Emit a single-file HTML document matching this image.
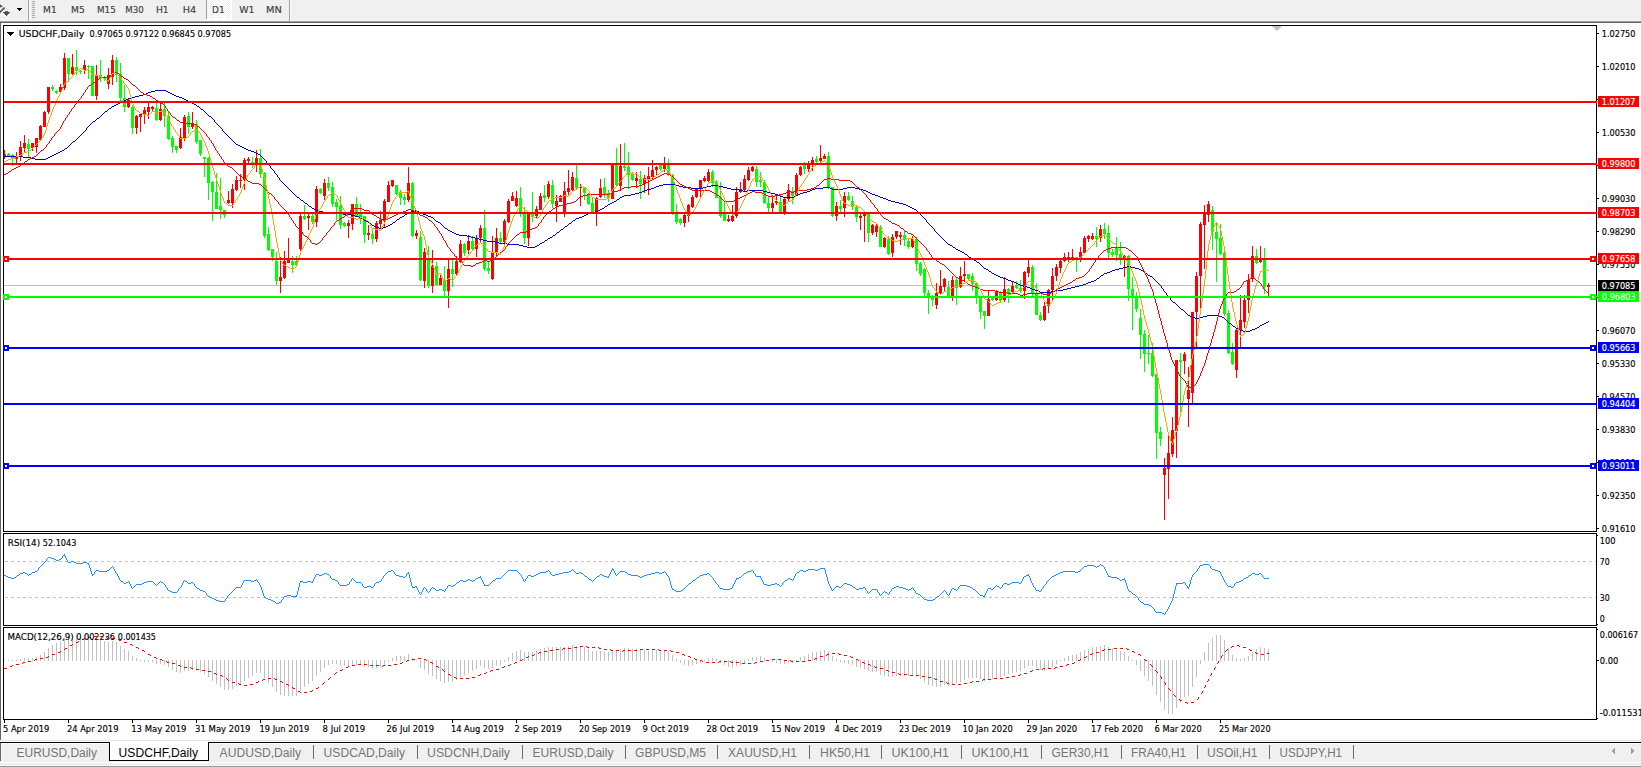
<!DOCTYPE html>
<html><head><meta charset="utf-8"><title>USDCHF,Daily</title>
<style>html,body{margin:0;padding:0;background:#f0f0f0;overflow:hidden}body{width:1641px;height:767px}</style></head>
<body>
<svg width="1641" height="767" viewBox="0 0 1641 767" shape-rendering="crispEdges" font-family="DejaVu Sans Condensed, Liberation Sans, sans-serif" style="display:block">
<rect x="0" y="0" width="1641" height="767" fill="#f0f0f0"/>
<rect x="0" y="20" width="1641" height="1" fill="#f5f5f5"/>
<rect x="0" y="21" width="1641" height="1" fill="#a0a0a0"/>
<rect x="0" y="22" width="1641" height="1" fill="#646464"/>
<rect x="0" y="23" width="1641" height="717" fill="#ffffff"/>
<rect x="0" y="22" width="1" height="718" fill="#646464"/>
<rect x="1" y="740" width="1640" height="1" fill="#e3e3e3"/>
<rect x="0" y="741" width="1641" height="1" fill="#ffffff"/>
<rect x="0" y="742" width="1641" height="1" fill="#000000"/>
<rect x="0" y="743" width="1641" height="1" fill="#fbfbfb"/>
<rect x="0" y="744" width="1641" height="18" fill="#f0f0f0"/>
<rect x="0" y="762" width="1641" height="1" fill="#ffffff"/>
<rect x="0" y="763" width="1641" height="2" fill="#f0f0f0"/>
<rect x="0" y="765" width="1641" height="1" fill="#f6f6f6"/>
<rect x="0" y="766" width="1641" height="1" fill="#9b9b9b"/>
<rect x="0" y="743" width="1" height="18" fill="#646464"/>
<rect x="1" y="743" width="1" height="18" fill="#fafafa"/>
<rect x="109" y="742" width="100" height="19" fill="#000"/>
<rect x="110" y="741" width="98" height="19" fill="#fff"/>
<text x="16.6" y="757" font-size="12" fill="#757575" textLength="80.4" lengthAdjust="spacingAndGlyphs" font-family="Liberation Sans, Arial, sans-serif">EURUSD,Daily</text>
<text x="118.6" y="757" font-size="12" fill="#000" textLength="79.4" lengthAdjust="spacingAndGlyphs" font-family="Liberation Sans, Arial, sans-serif">USDCHF,Daily</text>
<text x="219.6" y="757" font-size="12" fill="#757575" textLength="81.4" lengthAdjust="spacingAndGlyphs" font-family="Liberation Sans, Arial, sans-serif">AUDUSD,Daily</text>
<text x="323.6" y="757" font-size="12" fill="#757575" textLength="81.4" lengthAdjust="spacingAndGlyphs" font-family="Liberation Sans, Arial, sans-serif">USDCAD,Daily</text>
<text x="427.1" y="757" font-size="12" fill="#757575" textLength="82.9" lengthAdjust="spacingAndGlyphs" font-family="Liberation Sans, Arial, sans-serif">USDCNH,Daily</text>
<text x="532.6" y="757" font-size="12" fill="#757575" textLength="80.9" lengthAdjust="spacingAndGlyphs" font-family="Liberation Sans, Arial, sans-serif">EURUSD,Daily</text>
<text x="635.1" y="757" font-size="12" fill="#757575" textLength="70.9" lengthAdjust="spacingAndGlyphs" font-family="Liberation Sans, Arial, sans-serif">GBPUSD,M5</text>
<text x="728.1" y="757" font-size="12" fill="#757575" textLength="68.9" lengthAdjust="spacingAndGlyphs" font-family="Liberation Sans, Arial, sans-serif">XAUUSD,H1</text>
<text x="820.1" y="757" font-size="12" fill="#757575" textLength="49.9" lengthAdjust="spacingAndGlyphs" font-family="Liberation Sans, Arial, sans-serif">HK50,H1</text>
<text x="891.6" y="757" font-size="12" fill="#757575" textLength="57.4" lengthAdjust="spacingAndGlyphs" font-family="Liberation Sans, Arial, sans-serif">UK100,H1</text>
<text x="971.6" y="757" font-size="12" fill="#757575" textLength="57.4" lengthAdjust="spacingAndGlyphs" font-family="Liberation Sans, Arial, sans-serif">UK100,H1</text>
<text x="1051.6" y="757" font-size="12" fill="#757575" textLength="57.4" lengthAdjust="spacingAndGlyphs" font-family="Liberation Sans, Arial, sans-serif">GER30,H1</text>
<text x="1131.1" y="757" font-size="12" fill="#757575" textLength="54.9" lengthAdjust="spacingAndGlyphs" font-family="Liberation Sans, Arial, sans-serif">FRA40,H1</text>
<text x="1207.1" y="757" font-size="12" fill="#757575" textLength="50.4" lengthAdjust="spacingAndGlyphs" font-family="Liberation Sans, Arial, sans-serif">USOil,H1</text>
<text x="1279.6" y="757" font-size="12" fill="#757575" textLength="62.4" lengthAdjust="spacingAndGlyphs" font-family="Liberation Sans, Arial, sans-serif">USDJPY,H1</text>
<rect x="313" y="745" width="1" height="14" fill="#6e6e6e"/>
<rect x="417" y="745" width="1" height="14" fill="#6e6e6e"/>
<rect x="522" y="745" width="1" height="14" fill="#6e6e6e"/>
<rect x="625" y="745" width="1" height="14" fill="#6e6e6e"/>
<rect x="717" y="745" width="1" height="14" fill="#6e6e6e"/>
<rect x="809" y="745" width="1" height="14" fill="#6e6e6e"/>
<rect x="881" y="745" width="1" height="14" fill="#6e6e6e"/>
<rect x="961" y="745" width="1" height="14" fill="#6e6e6e"/>
<rect x="1041" y="745" width="1" height="14" fill="#6e6e6e"/>
<rect x="1121" y="745" width="1" height="14" fill="#6e6e6e"/>
<rect x="1197" y="745" width="1" height="14" fill="#6e6e6e"/>
<rect x="1269" y="745" width="1" height="14" fill="#6e6e6e"/>
<rect x="1353" y="745" width="1" height="14" fill="#6e6e6e"/>
<rect x="1612" y="750" width="1" height="2" fill="#a0a0a0"/>
<rect x="1631" y="748" width="1" height="6" fill="#a0a0a0"/>
<rect x="1613" y="749" width="1" height="4" fill="#a0a0a0"/>
<rect x="1632" y="749" width="1" height="4" fill="#a0a0a0"/>
<rect x="1614" y="748" width="1" height="6" fill="#a0a0a0"/>
<rect x="1633" y="750" width="1" height="2" fill="#a0a0a0"/>
<rect x="28" y="0" width="1" height="21" fill="#a0a0a0"/>
<rect x="29" y="0" width="1" height="21" fill="#ffffff"/>
<rect x="32" y="1" width="3" height="1" fill="#a8a8a8"/>
<rect x="32" y="3" width="3" height="1" fill="#a8a8a8"/>
<rect x="32" y="5" width="3" height="1" fill="#a8a8a8"/>
<rect x="32" y="7" width="3" height="1" fill="#a8a8a8"/>
<rect x="32" y="9" width="3" height="1" fill="#a8a8a8"/>
<rect x="32" y="11" width="3" height="1" fill="#a8a8a8"/>
<rect x="32" y="13" width="3" height="1" fill="#a8a8a8"/>
<rect x="32" y="15" width="3" height="1" fill="#a8a8a8"/>
<rect x="32" y="17" width="3" height="1" fill="#a8a8a8"/>
<rect x="17" y="8" width="5" height="1" fill="#000"/>
<rect x="18" y="9" width="3" height="1" fill="#000"/>
<rect x="19" y="10" width="1" height="1" fill="#000"/>
<g shape-rendering="geometricPrecision"><path d="M0 4.2 L2.9 6.6 L0 7.6 Z" fill="#505050"/><path d="M-0.5 12.6 L4.6 7.6" stroke="#505050" stroke-width="1.5" fill="none"/></g>
<rect x="5" y="11" width="3" height="1" fill="#606060"/>
<rect x="3" y="12" width="7" height="1" fill="#505050"/>
<rect x="4" y="13" width="5" height="1" fill="#505050"/>
<rect x="5" y="14" width="3" height="1" fill="#505050"/>
<rect x="6" y="15" width="1" height="1" fill="#505050"/>
<defs><pattern id="hat" width="2" height="2" patternUnits="userSpaceOnUse"><rect width="2" height="2" fill="#f0f0f0"/><rect width="1" height="1" fill="#fff"/><rect x="1" y="1" width="1" height="1" fill="#fff"/></pattern></defs>
<rect x="206" y="0" width="1" height="19" fill="#a0a0a0"/>
<rect x="207" y="0" width="24" height="19" fill="url(#hat)"/>
<rect x="231" y="0" width="1" height="20" fill="#fff"/>
<rect x="206" y="19" width="26" height="1" fill="#fff"/>
<rect x="289" y="0" width="1" height="21" fill="#a0a0a0"/>
<rect x="290" y="0" width="1" height="21" fill="#ffffff"/>
<text x="43.1" y="13" font-size="9.5" fill="#404040" stroke="#404040" stroke-width="0.15" textLength="13.6" lengthAdjust="spacingAndGlyphs">M1</text>
<text x="71.0" y="13" font-size="9.5" fill="#404040" stroke="#404040" stroke-width="0.15" textLength="13.7" lengthAdjust="spacingAndGlyphs">M5</text>
<text x="97.0" y="13" font-size="9.5" fill="#404040" stroke="#404040" stroke-width="0.15" textLength="18.7" lengthAdjust="spacingAndGlyphs">M15</text>
<text x="125.3" y="13" font-size="9.5" fill="#404040" stroke="#404040" stroke-width="0.15" textLength="18.4" lengthAdjust="spacingAndGlyphs">M30</text>
<text x="155.9" y="13" font-size="9.5" fill="#404040" stroke="#404040" stroke-width="0.15" textLength="12.8" lengthAdjust="spacingAndGlyphs">H1</text>
<text x="182.8" y="13" font-size="9.5" fill="#404040" stroke="#404040" stroke-width="0.15" textLength="13.5" lengthAdjust="spacingAndGlyphs">H4</text>
<text x="212.1" y="13" font-size="9.5" fill="#404040" stroke="#404040" stroke-width="0.15" textLength="12.5" lengthAdjust="spacingAndGlyphs">D1</text>
<text x="239.3" y="13" font-size="9.5" fill="#404040" stroke="#404040" stroke-width="0.15" textLength="15.3" lengthAdjust="spacingAndGlyphs">W1</text>
<text x="266.1" y="13" font-size="9.5" fill="#404040" stroke="#404040" stroke-width="0.15" textLength="15.8" lengthAdjust="spacingAndGlyphs">MN</text>
<rect x="3" y="25" width="1594" height="1" fill="#000"/>
<rect x="3" y="531" width="1594" height="1" fill="#000"/>
<rect x="3" y="25" width="1" height="507" fill="#000"/>
<rect x="1596" y="25" width="1" height="507" fill="#000"/>
<rect x="3" y="533" width="1594" height="1" fill="#000"/>
<rect x="3" y="625" width="1594" height="1" fill="#000"/>
<rect x="3" y="533" width="1" height="93" fill="#000"/>
<rect x="1596" y="533" width="1" height="93" fill="#000"/>
<rect x="3" y="627" width="1594" height="1" fill="#000"/>
<rect x="3" y="719" width="1594" height="1" fill="#000"/>
<rect x="3" y="627" width="1" height="93" fill="#000"/>
<rect x="1596" y="627" width="1" height="93" fill="#000"/>
<defs><clipPath id="cm"><rect x="4" y="26" width="1592" height="505"/></clipPath><clipPath id="cr"><rect x="4" y="534" width="1592" height="91"/></clipPath><clipPath id="cd"><rect x="4" y="628" width="1592" height="91"/></clipPath></defs>
<rect x="4" y="285" width="1592" height="1" fill="#c0c0c0"/>
<path d="M1272 26 L1282 26 L1277 31 Z" fill="#c0c0c0" shape-rendering="geometricPrecision"/>
<g clip-path="url(#cm)">
<rect x="4" y="150" width="1" height="9" fill="#ff0000"/>
<rect x="3" y="154" width="3" height="3" fill="#ff0000"/>
<rect x="8" y="153" width="1" height="4" fill="#00ff00"/>
<rect x="7" y="154" width="3" height="3" fill="#00ff00"/>
<rect x="12" y="154" width="1" height="12" fill="#00ff00"/>
<rect x="11" y="155" width="3" height="4" fill="#00ff00"/>
<rect x="16" y="152" width="1" height="11" fill="#ff0000"/>
<rect x="15" y="156" width="3" height="3" fill="#ff0000"/>
<rect x="20" y="141" width="1" height="20" fill="#ff0000"/>
<rect x="19" y="147" width="3" height="9" fill="#ff0000"/>
<rect x="24" y="135" width="1" height="17" fill="#ff0000"/>
<rect x="23" y="143" width="3" height="5" fill="#ff0000"/>
<rect x="28" y="139" width="1" height="18" fill="#00ff00"/>
<rect x="27" y="144" width="3" height="5" fill="#00ff00"/>
<rect x="32" y="143" width="1" height="8" fill="#ff0000"/>
<rect x="31" y="143" width="3" height="5" fill="#ff0000"/>
<rect x="36" y="138" width="1" height="15" fill="#ff0000"/>
<rect x="35" y="138" width="3" height="9" fill="#ff0000"/>
<rect x="40" y="125" width="1" height="15" fill="#ff0000"/>
<rect x="39" y="126" width="3" height="14" fill="#ff0000"/>
<rect x="44" y="111" width="1" height="16" fill="#ff0000"/>
<rect x="43" y="112" width="3" height="15" fill="#ff0000"/>
<rect x="48" y="87" width="1" height="27" fill="#ff0000"/>
<rect x="47" y="87" width="3" height="25" fill="#ff0000"/>
<rect x="52" y="85" width="1" height="6" fill="#00ff00"/>
<rect x="51" y="87" width="3" height="2" fill="#00ff00"/>
<rect x="56" y="90" width="1" height="4" fill="#00ff00"/>
<rect x="55" y="91" width="3" height="2" fill="#00ff00"/>
<rect x="60" y="84" width="1" height="8" fill="#ff0000"/>
<rect x="59" y="87" width="3" height="5" fill="#ff0000"/>
<rect x="64" y="53" width="1" height="37" fill="#ff0000"/>
<rect x="63" y="58" width="3" height="30" fill="#ff0000"/>
<rect x="68" y="58" width="1" height="24" fill="#00ff00"/>
<rect x="67" y="58" width="3" height="16" fill="#00ff00"/>
<rect x="72" y="54" width="1" height="21" fill="#ff0000"/>
<rect x="71" y="67" width="3" height="7" fill="#ff0000"/>
<rect x="76" y="50" width="1" height="25" fill="#00ff00"/>
<rect x="75" y="67" width="3" height="4" fill="#00ff00"/>
<rect x="80" y="70" width="1" height="4" fill="#00ff00"/>
<rect x="79" y="71" width="3" height="1" fill="#00ff00"/>
<rect x="84" y="60" width="1" height="14" fill="#ff0000"/>
<rect x="83" y="65" width="3" height="5" fill="#ff0000"/>
<rect x="88" y="65" width="1" height="14" fill="#00ff00"/>
<rect x="87" y="66" width="3" height="1" fill="#00ff00"/>
<rect x="92" y="66" width="1" height="30" fill="#00ff00"/>
<rect x="91" y="66" width="3" height="30" fill="#00ff00"/>
<rect x="96" y="65" width="1" height="35" fill="#ff0000"/>
<rect x="95" y="76" width="3" height="20" fill="#ff0000"/>
<rect x="100" y="60" width="1" height="22" fill="#00ff00"/>
<rect x="99" y="75" width="3" height="3" fill="#00ff00"/>
<rect x="104" y="76" width="1" height="5" fill="#00ff00"/>
<rect x="103" y="77" width="3" height="2" fill="#00ff00"/>
<rect x="108" y="68" width="1" height="21" fill="#ff0000"/>
<rect x="107" y="75" width="3" height="9" fill="#ff0000"/>
<rect x="112" y="55" width="1" height="30" fill="#ff0000"/>
<rect x="111" y="60" width="3" height="17" fill="#ff0000"/>
<rect x="116" y="57" width="1" height="25" fill="#00ff00"/>
<rect x="115" y="60" width="3" height="15" fill="#00ff00"/>
<rect x="120" y="63" width="1" height="38" fill="#00ff00"/>
<rect x="119" y="74" width="3" height="24" fill="#00ff00"/>
<rect x="124" y="85" width="1" height="27" fill="#00ff00"/>
<rect x="123" y="98" width="3" height="9" fill="#00ff00"/>
<rect x="128" y="99" width="1" height="9" fill="#ff0000"/>
<rect x="127" y="100" width="3" height="7" fill="#ff0000"/>
<rect x="132" y="105" width="1" height="29" fill="#00ff00"/>
<rect x="131" y="107" width="3" height="21" fill="#00ff00"/>
<rect x="136" y="115" width="1" height="19" fill="#ff0000"/>
<rect x="135" y="116" width="3" height="12" fill="#ff0000"/>
<rect x="140" y="113" width="1" height="19" fill="#ff0000"/>
<rect x="139" y="114" width="3" height="3" fill="#ff0000"/>
<rect x="144" y="107" width="1" height="17" fill="#ff0000"/>
<rect x="143" y="110" width="3" height="5" fill="#ff0000"/>
<rect x="148" y="103" width="1" height="16" fill="#ff0000"/>
<rect x="147" y="107" width="3" height="5" fill="#ff0000"/>
<rect x="152" y="106" width="1" height="5" fill="#ff0000"/>
<rect x="151" y="107" width="3" height="2" fill="#ff0000"/>
<rect x="156" y="103" width="1" height="18" fill="#00ff00"/>
<rect x="155" y="108" width="3" height="12" fill="#00ff00"/>
<rect x="160" y="103" width="1" height="18" fill="#ff0000"/>
<rect x="159" y="109" width="3" height="11" fill="#ff0000"/>
<rect x="164" y="103" width="1" height="24" fill="#00ff00"/>
<rect x="163" y="109" width="3" height="7" fill="#00ff00"/>
<rect x="168" y="112" width="1" height="28" fill="#00ff00"/>
<rect x="167" y="116" width="3" height="23" fill="#00ff00"/>
<rect x="172" y="136" width="1" height="17" fill="#00ff00"/>
<rect x="171" y="138" width="3" height="9" fill="#00ff00"/>
<rect x="176" y="146" width="1" height="7" fill="#00ff00"/>
<rect x="175" y="146" width="3" height="4" fill="#00ff00"/>
<rect x="180" y="128" width="1" height="21" fill="#ff0000"/>
<rect x="179" y="137" width="3" height="11" fill="#ff0000"/>
<rect x="184" y="115" width="1" height="26" fill="#ff0000"/>
<rect x="183" y="117" width="3" height="22" fill="#ff0000"/>
<rect x="188" y="112" width="1" height="22" fill="#00ff00"/>
<rect x="187" y="116" width="3" height="11" fill="#00ff00"/>
<rect x="192" y="112" width="1" height="17" fill="#ff0000"/>
<rect x="191" y="123" width="3" height="4" fill="#ff0000"/>
<rect x="196" y="120" width="1" height="24" fill="#00ff00"/>
<rect x="195" y="124" width="3" height="18" fill="#00ff00"/>
<rect x="200" y="140" width="1" height="16" fill="#00ff00"/>
<rect x="199" y="140" width="3" height="14" fill="#00ff00"/>
<rect x="204" y="157" width="1" height="20" fill="#00ff00"/>
<rect x="203" y="157" width="3" height="2" fill="#00ff00"/>
<rect x="208" y="157" width="1" height="43" fill="#00ff00"/>
<rect x="207" y="158" width="3" height="25" fill="#00ff00"/>
<rect x="212" y="181" width="1" height="40" fill="#00ff00"/>
<rect x="211" y="182" width="3" height="10" fill="#00ff00"/>
<rect x="216" y="173" width="1" height="36" fill="#00ff00"/>
<rect x="215" y="192" width="3" height="17" fill="#00ff00"/>
<rect x="220" y="178" width="1" height="41" fill="#00ff00"/>
<rect x="219" y="206" width="3" height="4" fill="#00ff00"/>
<rect x="224" y="210" width="1" height="8" fill="#00ff00"/>
<rect x="223" y="210" width="3" height="5" fill="#00ff00"/>
<rect x="228" y="191" width="1" height="13" fill="#ff0000"/>
<rect x="227" y="200" width="3" height="3" fill="#ff0000"/>
<rect x="232" y="184" width="1" height="24" fill="#ff0000"/>
<rect x="231" y="189" width="3" height="14" fill="#ff0000"/>
<rect x="236" y="176" width="1" height="15" fill="#ff0000"/>
<rect x="235" y="180" width="3" height="10" fill="#ff0000"/>
<rect x="240" y="174" width="1" height="14" fill="#ff0000"/>
<rect x="239" y="180" width="3" height="1" fill="#ff0000"/>
<rect x="244" y="158" width="1" height="32" fill="#ff0000"/>
<rect x="243" y="160" width="3" height="20" fill="#ff0000"/>
<rect x="248" y="157" width="1" height="6" fill="#ff0000"/>
<rect x="247" y="159" width="3" height="2" fill="#ff0000"/>
<rect x="252" y="157" width="1" height="11" fill="#00ff00"/>
<rect x="251" y="162" width="3" height="2" fill="#00ff00"/>
<rect x="256" y="150" width="1" height="22" fill="#ff0000"/>
<rect x="255" y="158" width="3" height="7" fill="#ff0000"/>
<rect x="260" y="149" width="1" height="29" fill="#00ff00"/>
<rect x="259" y="158" width="3" height="16" fill="#00ff00"/>
<rect x="264" y="172" width="1" height="66" fill="#00ff00"/>
<rect x="263" y="173" width="3" height="63" fill="#00ff00"/>
<rect x="268" y="227" width="1" height="24" fill="#00ff00"/>
<rect x="267" y="234" width="3" height="16" fill="#00ff00"/>
<rect x="272" y="249" width="1" height="12" fill="#00ff00"/>
<rect x="271" y="249" width="3" height="8" fill="#00ff00"/>
<rect x="276" y="252" width="1" height="33" fill="#00ff00"/>
<rect x="275" y="261" width="3" height="20" fill="#00ff00"/>
<rect x="280" y="257" width="1" height="36" fill="#ff0000"/>
<rect x="279" y="277" width="3" height="4" fill="#ff0000"/>
<rect x="284" y="251" width="1" height="28" fill="#ff0000"/>
<rect x="283" y="261" width="3" height="17" fill="#ff0000"/>
<rect x="288" y="238" width="1" height="25" fill="#ff0000"/>
<rect x="287" y="259" width="3" height="4" fill="#ff0000"/>
<rect x="292" y="256" width="1" height="17" fill="#00ff00"/>
<rect x="291" y="261" width="3" height="4" fill="#00ff00"/>
<rect x="296" y="256" width="1" height="10" fill="#00ff00"/>
<rect x="295" y="261" width="3" height="4" fill="#00ff00"/>
<rect x="300" y="214" width="1" height="37" fill="#ff0000"/>
<rect x="299" y="216" width="3" height="33" fill="#ff0000"/>
<rect x="304" y="205" width="1" height="15" fill="#00ff00"/>
<rect x="303" y="216" width="3" height="3" fill="#00ff00"/>
<rect x="308" y="214" width="1" height="16" fill="#ff0000"/>
<rect x="307" y="216" width="3" height="2" fill="#ff0000"/>
<rect x="312" y="214" width="1" height="10" fill="#00ff00"/>
<rect x="311" y="216" width="3" height="6" fill="#00ff00"/>
<rect x="316" y="186" width="1" height="41" fill="#ff0000"/>
<rect x="315" y="189" width="3" height="33" fill="#ff0000"/>
<rect x="320" y="188" width="1" height="6" fill="#00ff00"/>
<rect x="319" y="189" width="3" height="4" fill="#00ff00"/>
<rect x="324" y="179" width="1" height="21" fill="#ff0000"/>
<rect x="323" y="183" width="3" height="13" fill="#ff0000"/>
<rect x="328" y="177" width="1" height="14" fill="#00ff00"/>
<rect x="327" y="183" width="3" height="5" fill="#00ff00"/>
<rect x="332" y="182" width="1" height="25" fill="#00ff00"/>
<rect x="331" y="187" width="3" height="17" fill="#00ff00"/>
<rect x="336" y="199" width="1" height="21" fill="#00ff00"/>
<rect x="335" y="202" width="3" height="5" fill="#00ff00"/>
<rect x="340" y="196" width="1" height="33" fill="#00ff00"/>
<rect x="339" y="206" width="3" height="19" fill="#00ff00"/>
<rect x="344" y="222" width="1" height="5" fill="#00ff00"/>
<rect x="343" y="223" width="3" height="3" fill="#00ff00"/>
<rect x="348" y="220" width="1" height="18" fill="#ff0000"/>
<rect x="347" y="223" width="3" height="3" fill="#ff0000"/>
<rect x="352" y="204" width="1" height="26" fill="#ff0000"/>
<rect x="351" y="204" width="3" height="20" fill="#ff0000"/>
<rect x="356" y="197" width="1" height="20" fill="#00ff00"/>
<rect x="355" y="204" width="3" height="13" fill="#00ff00"/>
<rect x="360" y="204" width="1" height="20" fill="#00ff00"/>
<rect x="359" y="212" width="3" height="5" fill="#00ff00"/>
<rect x="364" y="216" width="1" height="27" fill="#00ff00"/>
<rect x="363" y="216" width="3" height="19" fill="#00ff00"/>
<rect x="368" y="225" width="1" height="15" fill="#ff0000"/>
<rect x="367" y="233" width="3" height="2" fill="#ff0000"/>
<rect x="372" y="229" width="1" height="15" fill="#00ff00"/>
<rect x="371" y="234" width="3" height="5" fill="#00ff00"/>
<rect x="376" y="221" width="1" height="21" fill="#ff0000"/>
<rect x="375" y="223" width="3" height="16" fill="#ff0000"/>
<rect x="380" y="211" width="1" height="17" fill="#ff0000"/>
<rect x="379" y="220" width="3" height="4" fill="#ff0000"/>
<rect x="384" y="199" width="1" height="28" fill="#ff0000"/>
<rect x="383" y="201" width="3" height="20" fill="#ff0000"/>
<rect x="388" y="181" width="1" height="21" fill="#ff0000"/>
<rect x="387" y="185" width="3" height="17" fill="#ff0000"/>
<rect x="392" y="180" width="1" height="7" fill="#ff0000"/>
<rect x="391" y="180" width="3" height="6" fill="#ff0000"/>
<rect x="396" y="185" width="1" height="10" fill="#00ff00"/>
<rect x="395" y="185" width="3" height="9" fill="#00ff00"/>
<rect x="400" y="190" width="1" height="15" fill="#00ff00"/>
<rect x="399" y="192" width="3" height="6" fill="#00ff00"/>
<rect x="404" y="194" width="1" height="11" fill="#00ff00"/>
<rect x="403" y="197" width="3" height="3" fill="#00ff00"/>
<rect x="408" y="167" width="1" height="35" fill="#ff0000"/>
<rect x="407" y="183" width="3" height="17" fill="#ff0000"/>
<rect x="412" y="182" width="1" height="55" fill="#00ff00"/>
<rect x="411" y="183" width="3" height="53" fill="#00ff00"/>
<rect x="416" y="230" width="1" height="9" fill="#ff0000"/>
<rect x="415" y="233" width="3" height="3" fill="#ff0000"/>
<rect x="420" y="231" width="1" height="50" fill="#00ff00"/>
<rect x="419" y="237" width="3" height="43" fill="#00ff00"/>
<rect x="424" y="248" width="1" height="40" fill="#ff0000"/>
<rect x="423" y="252" width="3" height="29" fill="#ff0000"/>
<rect x="428" y="246" width="1" height="42" fill="#00ff00"/>
<rect x="427" y="258" width="3" height="28" fill="#00ff00"/>
<rect x="432" y="250" width="1" height="43" fill="#ff0000"/>
<rect x="431" y="266" width="3" height="20" fill="#ff0000"/>
<rect x="436" y="262" width="1" height="23" fill="#00ff00"/>
<rect x="435" y="266" width="3" height="19" fill="#00ff00"/>
<rect x="440" y="275" width="1" height="10" fill="#ff0000"/>
<rect x="439" y="278" width="3" height="7" fill="#ff0000"/>
<rect x="444" y="266" width="1" height="30" fill="#00ff00"/>
<rect x="443" y="280" width="3" height="11" fill="#00ff00"/>
<rect x="448" y="260" width="1" height="48" fill="#ff0000"/>
<rect x="447" y="269" width="3" height="22" fill="#ff0000"/>
<rect x="452" y="260" width="1" height="27" fill="#00ff00"/>
<rect x="451" y="269" width="3" height="5" fill="#00ff00"/>
<rect x="456" y="256" width="1" height="20" fill="#ff0000"/>
<rect x="455" y="261" width="3" height="13" fill="#ff0000"/>
<rect x="460" y="240" width="1" height="23" fill="#ff0000"/>
<rect x="459" y="244" width="3" height="18" fill="#ff0000"/>
<rect x="464" y="243" width="1" height="13" fill="#00ff00"/>
<rect x="463" y="244" width="3" height="9" fill="#00ff00"/>
<rect x="468" y="235" width="1" height="19" fill="#ff0000"/>
<rect x="467" y="241" width="3" height="9" fill="#ff0000"/>
<rect x="472" y="236" width="1" height="15" fill="#00ff00"/>
<rect x="471" y="241" width="3" height="8" fill="#00ff00"/>
<rect x="476" y="235" width="1" height="22" fill="#ff0000"/>
<rect x="475" y="238" width="3" height="11" fill="#ff0000"/>
<rect x="480" y="225" width="1" height="17" fill="#ff0000"/>
<rect x="479" y="228" width="3" height="10" fill="#ff0000"/>
<rect x="484" y="210" width="1" height="61" fill="#00ff00"/>
<rect x="483" y="228" width="3" height="41" fill="#00ff00"/>
<rect x="488" y="261" width="1" height="13" fill="#00ff00"/>
<rect x="487" y="268" width="3" height="3" fill="#00ff00"/>
<rect x="492" y="236" width="1" height="44" fill="#ff0000"/>
<rect x="491" y="252" width="3" height="27" fill="#ff0000"/>
<rect x="496" y="228" width="1" height="29" fill="#ff0000"/>
<rect x="495" y="238" width="3" height="14" fill="#ff0000"/>
<rect x="500" y="232" width="1" height="12" fill="#00ff00"/>
<rect x="499" y="238" width="3" height="4" fill="#00ff00"/>
<rect x="504" y="219" width="1" height="24" fill="#ff0000"/>
<rect x="503" y="221" width="3" height="21" fill="#ff0000"/>
<rect x="508" y="199" width="1" height="24" fill="#ff0000"/>
<rect x="507" y="201" width="3" height="21" fill="#ff0000"/>
<rect x="512" y="192" width="1" height="9" fill="#ff0000"/>
<rect x="511" y="196" width="3" height="5" fill="#ff0000"/>
<rect x="516" y="191" width="1" height="16" fill="#ff0000"/>
<rect x="515" y="198" width="3" height="8" fill="#ff0000"/>
<rect x="520" y="187" width="1" height="30" fill="#00ff00"/>
<rect x="519" y="198" width="3" height="14" fill="#00ff00"/>
<rect x="524" y="207" width="1" height="37" fill="#00ff00"/>
<rect x="523" y="212" width="3" height="26" fill="#00ff00"/>
<rect x="528" y="212" width="1" height="34" fill="#ff0000"/>
<rect x="527" y="214" width="3" height="24" fill="#ff0000"/>
<rect x="532" y="192" width="1" height="30" fill="#00ff00"/>
<rect x="531" y="212" width="3" height="5" fill="#00ff00"/>
<rect x="536" y="206" width="1" height="12" fill="#ff0000"/>
<rect x="535" y="209" width="3" height="7" fill="#ff0000"/>
<rect x="540" y="193" width="1" height="17" fill="#ff0000"/>
<rect x="539" y="196" width="3" height="14" fill="#ff0000"/>
<rect x="544" y="185" width="1" height="17" fill="#00ff00"/>
<rect x="543" y="195" width="3" height="3" fill="#00ff00"/>
<rect x="548" y="181" width="1" height="18" fill="#ff0000"/>
<rect x="547" y="184" width="3" height="13" fill="#ff0000"/>
<rect x="552" y="180" width="1" height="28" fill="#00ff00"/>
<rect x="551" y="185" width="3" height="19" fill="#00ff00"/>
<rect x="556" y="195" width="1" height="27" fill="#ff0000"/>
<rect x="555" y="201" width="3" height="5" fill="#ff0000"/>
<rect x="560" y="195" width="1" height="7" fill="#ff0000"/>
<rect x="559" y="196" width="3" height="6" fill="#ff0000"/>
<rect x="564" y="182" width="1" height="35" fill="#ff0000"/>
<rect x="563" y="191" width="3" height="22" fill="#ff0000"/>
<rect x="568" y="170" width="1" height="25" fill="#ff0000"/>
<rect x="567" y="188" width="3" height="4" fill="#ff0000"/>
<rect x="572" y="172" width="1" height="19" fill="#ff0000"/>
<rect x="571" y="177" width="3" height="13" fill="#ff0000"/>
<rect x="576" y="165" width="1" height="25" fill="#00ff00"/>
<rect x="575" y="178" width="3" height="10" fill="#00ff00"/>
<rect x="580" y="184" width="1" height="22" fill="#ff0000"/>
<rect x="579" y="187" width="3" height="1" fill="#ff0000"/>
<rect x="584" y="187" width="1" height="13" fill="#00ff00"/>
<rect x="583" y="187" width="3" height="6" fill="#00ff00"/>
<rect x="588" y="193" width="1" height="12" fill="#00ff00"/>
<rect x="587" y="194" width="3" height="10" fill="#00ff00"/>
<rect x="592" y="197" width="1" height="15" fill="#00ff00"/>
<rect x="591" y="203" width="3" height="9" fill="#00ff00"/>
<rect x="596" y="197" width="1" height="29" fill="#ff0000"/>
<rect x="595" y="198" width="3" height="13" fill="#ff0000"/>
<rect x="600" y="179" width="1" height="19" fill="#ff0000"/>
<rect x="599" y="188" width="3" height="9" fill="#ff0000"/>
<rect x="604" y="178" width="1" height="20" fill="#00ff00"/>
<rect x="603" y="187" width="3" height="7" fill="#00ff00"/>
<rect x="608" y="190" width="1" height="12" fill="#00ff00"/>
<rect x="607" y="193" width="3" height="5" fill="#00ff00"/>
<rect x="612" y="164" width="1" height="35" fill="#ff0000"/>
<rect x="611" y="165" width="3" height="34" fill="#ff0000"/>
<rect x="616" y="148" width="1" height="38" fill="#00ff00"/>
<rect x="615" y="165" width="3" height="20" fill="#00ff00"/>
<rect x="620" y="144" width="1" height="47" fill="#ff0000"/>
<rect x="619" y="166" width="3" height="20" fill="#ff0000"/>
<rect x="624" y="143" width="1" height="28" fill="#00ff00"/>
<rect x="623" y="166" width="3" height="2" fill="#00ff00"/>
<rect x="628" y="152" width="1" height="37" fill="#00ff00"/>
<rect x="627" y="167" width="3" height="8" fill="#00ff00"/>
<rect x="632" y="172" width="1" height="9" fill="#00ff00"/>
<rect x="631" y="174" width="3" height="6" fill="#00ff00"/>
<rect x="636" y="172" width="1" height="16" fill="#ff0000"/>
<rect x="635" y="178" width="3" height="3" fill="#ff0000"/>
<rect x="640" y="171" width="1" height="28" fill="#00ff00"/>
<rect x="639" y="179" width="3" height="5" fill="#00ff00"/>
<rect x="644" y="175" width="1" height="18" fill="#ff0000"/>
<rect x="643" y="178" width="3" height="6" fill="#ff0000"/>
<rect x="648" y="167" width="1" height="28" fill="#ff0000"/>
<rect x="647" y="176" width="3" height="3" fill="#ff0000"/>
<rect x="652" y="160" width="1" height="20" fill="#ff0000"/>
<rect x="651" y="170" width="3" height="7" fill="#ff0000"/>
<rect x="656" y="166" width="1" height="10" fill="#ff0000"/>
<rect x="655" y="167" width="3" height="3" fill="#ff0000"/>
<rect x="660" y="165" width="1" height="6" fill="#00ff00"/>
<rect x="659" y="165" width="3" height="4" fill="#00ff00"/>
<rect x="664" y="157" width="1" height="15" fill="#ff0000"/>
<rect x="663" y="163" width="3" height="6" fill="#ff0000"/>
<rect x="668" y="159" width="1" height="17" fill="#00ff00"/>
<rect x="667" y="165" width="3" height="10" fill="#00ff00"/>
<rect x="672" y="174" width="1" height="41" fill="#00ff00"/>
<rect x="671" y="175" width="3" height="37" fill="#00ff00"/>
<rect x="676" y="204" width="1" height="20" fill="#00ff00"/>
<rect x="675" y="213" width="3" height="9" fill="#00ff00"/>
<rect x="680" y="218" width="1" height="7" fill="#00ff00"/>
<rect x="679" y="219" width="3" height="4" fill="#00ff00"/>
<rect x="684" y="212" width="1" height="15" fill="#ff0000"/>
<rect x="683" y="215" width="3" height="8" fill="#ff0000"/>
<rect x="688" y="204" width="1" height="18" fill="#ff0000"/>
<rect x="687" y="205" width="3" height="11" fill="#ff0000"/>
<rect x="692" y="195" width="1" height="13" fill="#ff0000"/>
<rect x="691" y="197" width="3" height="10" fill="#ff0000"/>
<rect x="696" y="188" width="1" height="10" fill="#ff0000"/>
<rect x="695" y="189" width="3" height="8" fill="#ff0000"/>
<rect x="700" y="180" width="1" height="17" fill="#ff0000"/>
<rect x="699" y="180" width="3" height="9" fill="#ff0000"/>
<rect x="704" y="176" width="1" height="6" fill="#ff0000"/>
<rect x="703" y="178" width="3" height="3" fill="#ff0000"/>
<rect x="708" y="169" width="1" height="13" fill="#ff0000"/>
<rect x="707" y="172" width="3" height="9" fill="#ff0000"/>
<rect x="712" y="170" width="1" height="17" fill="#00ff00"/>
<rect x="711" y="172" width="3" height="11" fill="#00ff00"/>
<rect x="716" y="180" width="1" height="18" fill="#00ff00"/>
<rect x="715" y="182" width="3" height="16" fill="#00ff00"/>
<rect x="720" y="182" width="1" height="36" fill="#00ff00"/>
<rect x="719" y="197" width="3" height="19" fill="#00ff00"/>
<rect x="724" y="201" width="1" height="20" fill="#00ff00"/>
<rect x="723" y="214" width="3" height="7" fill="#00ff00"/>
<rect x="728" y="215" width="1" height="7" fill="#ff0000"/>
<rect x="727" y="219" width="3" height="2" fill="#ff0000"/>
<rect x="732" y="205" width="1" height="17" fill="#ff0000"/>
<rect x="731" y="216" width="3" height="5" fill="#ff0000"/>
<rect x="736" y="187" width="1" height="31" fill="#ff0000"/>
<rect x="735" y="192" width="3" height="24" fill="#ff0000"/>
<rect x="740" y="182" width="1" height="11" fill="#ff0000"/>
<rect x="739" y="189" width="3" height="3" fill="#ff0000"/>
<rect x="744" y="175" width="1" height="16" fill="#ff0000"/>
<rect x="743" y="179" width="3" height="11" fill="#ff0000"/>
<rect x="748" y="167" width="1" height="14" fill="#ff0000"/>
<rect x="747" y="170" width="3" height="10" fill="#ff0000"/>
<rect x="752" y="166" width="1" height="6" fill="#ff0000"/>
<rect x="751" y="167" width="3" height="4" fill="#ff0000"/>
<rect x="756" y="166" width="1" height="21" fill="#00ff00"/>
<rect x="755" y="169" width="3" height="13" fill="#00ff00"/>
<rect x="760" y="172" width="1" height="15" fill="#00ff00"/>
<rect x="759" y="180" width="3" height="2" fill="#00ff00"/>
<rect x="764" y="180" width="1" height="24" fill="#00ff00"/>
<rect x="763" y="182" width="3" height="21" fill="#00ff00"/>
<rect x="768" y="196" width="1" height="16" fill="#00ff00"/>
<rect x="767" y="203" width="3" height="5" fill="#00ff00"/>
<rect x="772" y="195" width="1" height="17" fill="#ff0000"/>
<rect x="771" y="203" width="3" height="5" fill="#ff0000"/>
<rect x="776" y="195" width="1" height="10" fill="#ff0000"/>
<rect x="775" y="201" width="3" height="2" fill="#ff0000"/>
<rect x="780" y="194" width="1" height="18" fill="#00ff00"/>
<rect x="779" y="202" width="3" height="10" fill="#00ff00"/>
<rect x="784" y="197" width="1" height="18" fill="#ff0000"/>
<rect x="783" y="199" width="3" height="13" fill="#ff0000"/>
<rect x="788" y="184" width="1" height="18" fill="#ff0000"/>
<rect x="787" y="190" width="3" height="9" fill="#ff0000"/>
<rect x="792" y="187" width="1" height="17" fill="#00ff00"/>
<rect x="791" y="191" width="3" height="5" fill="#00ff00"/>
<rect x="796" y="173" width="1" height="22" fill="#ff0000"/>
<rect x="795" y="175" width="3" height="20" fill="#ff0000"/>
<rect x="800" y="166" width="1" height="10" fill="#ff0000"/>
<rect x="799" y="167" width="3" height="8" fill="#ff0000"/>
<rect x="804" y="162" width="1" height="12" fill="#00ff00"/>
<rect x="803" y="165" width="3" height="4" fill="#00ff00"/>
<rect x="808" y="161" width="1" height="11" fill="#ff0000"/>
<rect x="807" y="163" width="3" height="6" fill="#ff0000"/>
<rect x="812" y="157" width="1" height="14" fill="#ff0000"/>
<rect x="811" y="160" width="3" height="5" fill="#ff0000"/>
<rect x="816" y="156" width="1" height="7" fill="#00ff00"/>
<rect x="815" y="159" width="3" height="3" fill="#00ff00"/>
<rect x="820" y="145" width="1" height="20" fill="#ff0000"/>
<rect x="819" y="158" width="3" height="3" fill="#ff0000"/>
<rect x="824" y="154" width="1" height="5" fill="#ff0000"/>
<rect x="823" y="156" width="3" height="3" fill="#ff0000"/>
<rect x="828" y="152" width="1" height="37" fill="#00ff00"/>
<rect x="827" y="156" width="3" height="31" fill="#00ff00"/>
<rect x="832" y="187" width="1" height="30" fill="#00ff00"/>
<rect x="831" y="187" width="3" height="29" fill="#00ff00"/>
<rect x="836" y="202" width="1" height="19" fill="#ff0000"/>
<rect x="835" y="206" width="3" height="10" fill="#ff0000"/>
<rect x="840" y="200" width="1" height="12" fill="#00ff00"/>
<rect x="839" y="206" width="3" height="3" fill="#00ff00"/>
<rect x="844" y="192" width="1" height="25" fill="#ff0000"/>
<rect x="843" y="196" width="3" height="12" fill="#ff0000"/>
<rect x="848" y="192" width="1" height="9" fill="#00ff00"/>
<rect x="847" y="196" width="3" height="4" fill="#00ff00"/>
<rect x="852" y="196" width="1" height="14" fill="#00ff00"/>
<rect x="851" y="201" width="3" height="6" fill="#00ff00"/>
<rect x="856" y="205" width="1" height="17" fill="#00ff00"/>
<rect x="855" y="207" width="3" height="10" fill="#00ff00"/>
<rect x="860" y="213" width="1" height="17" fill="#ff0000"/>
<rect x="859" y="216" width="3" height="2" fill="#ff0000"/>
<rect x="864" y="212" width="1" height="30" fill="#ff0000"/>
<rect x="863" y="213" width="3" height="3" fill="#ff0000"/>
<rect x="868" y="214" width="1" height="28" fill="#00ff00"/>
<rect x="867" y="214" width="3" height="19" fill="#00ff00"/>
<rect x="872" y="224" width="1" height="11" fill="#ff0000"/>
<rect x="871" y="225" width="3" height="8" fill="#ff0000"/>
<rect x="876" y="223" width="1" height="14" fill="#ff0000"/>
<rect x="875" y="226" width="3" height="6" fill="#ff0000"/>
<rect x="880" y="225" width="1" height="22" fill="#00ff00"/>
<rect x="879" y="227" width="3" height="20" fill="#00ff00"/>
<rect x="884" y="237" width="1" height="11" fill="#ff0000"/>
<rect x="883" y="238" width="3" height="9" fill="#ff0000"/>
<rect x="888" y="236" width="1" height="19" fill="#00ff00"/>
<rect x="887" y="239" width="3" height="15" fill="#00ff00"/>
<rect x="892" y="234" width="1" height="23" fill="#ff0000"/>
<rect x="891" y="237" width="3" height="16" fill="#ff0000"/>
<rect x="896" y="231" width="1" height="8" fill="#ff0000"/>
<rect x="895" y="231" width="3" height="6" fill="#ff0000"/>
<rect x="900" y="232" width="1" height="13" fill="#ff0000"/>
<rect x="899" y="235" width="3" height="2" fill="#ff0000"/>
<rect x="904" y="231" width="1" height="15" fill="#00ff00"/>
<rect x="903" y="235" width="3" height="4" fill="#00ff00"/>
<rect x="908" y="239" width="1" height="10" fill="#00ff00"/>
<rect x="907" y="241" width="3" height="6" fill="#00ff00"/>
<rect x="912" y="236" width="1" height="12" fill="#ff0000"/>
<rect x="911" y="239" width="3" height="8" fill="#ff0000"/>
<rect x="916" y="237" width="1" height="34" fill="#00ff00"/>
<rect x="915" y="239" width="3" height="25" fill="#00ff00"/>
<rect x="920" y="262" width="1" height="14" fill="#00ff00"/>
<rect x="919" y="263" width="3" height="11" fill="#00ff00"/>
<rect x="924" y="268" width="1" height="28" fill="#00ff00"/>
<rect x="923" y="269" width="3" height="24" fill="#00ff00"/>
<rect x="928" y="290" width="1" height="24" fill="#00ff00"/>
<rect x="927" y="293" width="3" height="4" fill="#00ff00"/>
<rect x="932" y="295" width="1" height="11" fill="#00ff00"/>
<rect x="931" y="297" width="3" height="3" fill="#00ff00"/>
<rect x="936" y="283" width="1" height="26" fill="#ff0000"/>
<rect x="935" y="293" width="3" height="12" fill="#ff0000"/>
<rect x="940" y="270" width="1" height="24" fill="#ff0000"/>
<rect x="939" y="286" width="3" height="7" fill="#ff0000"/>
<rect x="944" y="278" width="1" height="13" fill="#ff0000"/>
<rect x="943" y="279" width="3" height="8" fill="#ff0000"/>
<rect x="948" y="281" width="1" height="16" fill="#00ff00"/>
<rect x="947" y="287" width="3" height="9" fill="#00ff00"/>
<rect x="952" y="276" width="1" height="25" fill="#ff0000"/>
<rect x="951" y="280" width="3" height="16" fill="#ff0000"/>
<rect x="956" y="277" width="1" height="28" fill="#00ff00"/>
<rect x="955" y="280" width="3" height="8" fill="#00ff00"/>
<rect x="960" y="267" width="1" height="21" fill="#ff0000"/>
<rect x="959" y="276" width="3" height="11" fill="#ff0000"/>
<rect x="964" y="261" width="1" height="20" fill="#ff0000"/>
<rect x="963" y="274" width="3" height="2" fill="#ff0000"/>
<rect x="968" y="274" width="1" height="6" fill="#00ff00"/>
<rect x="967" y="274" width="3" height="5" fill="#00ff00"/>
<rect x="972" y="273" width="1" height="18" fill="#00ff00"/>
<rect x="971" y="276" width="3" height="8" fill="#00ff00"/>
<rect x="976" y="282" width="1" height="22" fill="#00ff00"/>
<rect x="975" y="283" width="3" height="14" fill="#00ff00"/>
<rect x="980" y="297" width="1" height="22" fill="#00ff00"/>
<rect x="979" y="297" width="3" height="15" fill="#00ff00"/>
<rect x="984" y="311" width="1" height="18" fill="#00ff00"/>
<rect x="983" y="311" width="3" height="5" fill="#00ff00"/>
<rect x="988" y="291" width="1" height="25" fill="#ff0000"/>
<rect x="987" y="299" width="3" height="17" fill="#ff0000"/>
<rect x="992" y="297" width="1" height="4" fill="#00ff00"/>
<rect x="991" y="298" width="3" height="2" fill="#00ff00"/>
<rect x="996" y="290" width="1" height="11" fill="#ff0000"/>
<rect x="995" y="291" width="3" height="9" fill="#ff0000"/>
<rect x="1000" y="291" width="1" height="12" fill="#00ff00"/>
<rect x="999" y="292" width="3" height="9" fill="#00ff00"/>
<rect x="1004" y="277" width="1" height="25" fill="#ff0000"/>
<rect x="1003" y="289" width="3" height="11" fill="#ff0000"/>
<rect x="1008" y="288" width="1" height="15" fill="#00ff00"/>
<rect x="1007" y="289" width="3" height="4" fill="#00ff00"/>
<rect x="1012" y="281" width="1" height="13" fill="#ff0000"/>
<rect x="1011" y="286" width="3" height="6" fill="#ff0000"/>
<rect x="1016" y="281" width="1" height="8" fill="#00ff00"/>
<rect x="1015" y="285" width="3" height="3" fill="#00ff00"/>
<rect x="1020" y="280" width="1" height="13" fill="#00ff00"/>
<rect x="1019" y="288" width="3" height="3" fill="#00ff00"/>
<rect x="1024" y="271" width="1" height="28" fill="#ff0000"/>
<rect x="1023" y="272" width="3" height="19" fill="#ff0000"/>
<rect x="1028" y="260" width="1" height="17" fill="#ff0000"/>
<rect x="1027" y="267" width="3" height="6" fill="#ff0000"/>
<rect x="1032" y="265" width="1" height="33" fill="#00ff00"/>
<rect x="1031" y="267" width="3" height="27" fill="#00ff00"/>
<rect x="1036" y="283" width="1" height="32" fill="#00ff00"/>
<rect x="1035" y="294" width="3" height="21" fill="#00ff00"/>
<rect x="1040" y="312" width="1" height="9" fill="#00ff00"/>
<rect x="1039" y="315" width="3" height="5" fill="#00ff00"/>
<rect x="1044" y="302" width="1" height="19" fill="#ff0000"/>
<rect x="1043" y="306" width="3" height="14" fill="#ff0000"/>
<rect x="1048" y="289" width="1" height="24" fill="#ff0000"/>
<rect x="1047" y="290" width="3" height="16" fill="#ff0000"/>
<rect x="1052" y="268" width="1" height="32" fill="#ff0000"/>
<rect x="1051" y="276" width="3" height="14" fill="#ff0000"/>
<rect x="1056" y="264" width="1" height="17" fill="#ff0000"/>
<rect x="1055" y="267" width="3" height="9" fill="#ff0000"/>
<rect x="1060" y="260" width="1" height="13" fill="#ff0000"/>
<rect x="1059" y="261" width="3" height="7" fill="#ff0000"/>
<rect x="1064" y="253" width="1" height="9" fill="#ff0000"/>
<rect x="1063" y="257" width="3" height="4" fill="#ff0000"/>
<rect x="1068" y="252" width="1" height="10" fill="#ff0000"/>
<rect x="1067" y="257" width="3" height="3" fill="#ff0000"/>
<rect x="1072" y="249" width="1" height="12" fill="#ff0000"/>
<rect x="1071" y="257" width="3" height="2" fill="#ff0000"/>
<rect x="1076" y="257" width="1" height="15" fill="#00ff00"/>
<rect x="1075" y="257" width="3" height="3" fill="#00ff00"/>
<rect x="1080" y="247" width="1" height="15" fill="#ff0000"/>
<rect x="1079" y="252" width="3" height="8" fill="#ff0000"/>
<rect x="1084" y="236" width="1" height="17" fill="#ff0000"/>
<rect x="1083" y="238" width="3" height="15" fill="#ff0000"/>
<rect x="1088" y="235" width="1" height="7" fill="#ff0000"/>
<rect x="1087" y="236" width="3" height="3" fill="#ff0000"/>
<rect x="1092" y="233" width="1" height="7" fill="#ff0000"/>
<rect x="1091" y="236" width="3" height="3" fill="#ff0000"/>
<rect x="1096" y="227" width="1" height="20" fill="#00ff00"/>
<rect x="1095" y="236" width="3" height="3" fill="#00ff00"/>
<rect x="1100" y="225" width="1" height="17" fill="#ff0000"/>
<rect x="1099" y="229" width="3" height="9" fill="#ff0000"/>
<rect x="1104" y="223" width="1" height="16" fill="#00ff00"/>
<rect x="1103" y="229" width="3" height="5" fill="#00ff00"/>
<rect x="1108" y="225" width="1" height="33" fill="#00ff00"/>
<rect x="1107" y="233" width="3" height="20" fill="#00ff00"/>
<rect x="1112" y="249" width="1" height="8" fill="#00ff00"/>
<rect x="1111" y="252" width="3" height="3" fill="#00ff00"/>
<rect x="1116" y="237" width="1" height="24" fill="#00ff00"/>
<rect x="1115" y="248" width="3" height="7" fill="#00ff00"/>
<rect x="1120" y="242" width="1" height="23" fill="#00ff00"/>
<rect x="1119" y="254" width="3" height="6" fill="#00ff00"/>
<rect x="1124" y="255" width="1" height="22" fill="#ff0000"/>
<rect x="1123" y="256" width="3" height="4" fill="#ff0000"/>
<rect x="1128" y="255" width="1" height="46" fill="#00ff00"/>
<rect x="1127" y="256" width="3" height="33" fill="#00ff00"/>
<rect x="1132" y="277" width="1" height="53" fill="#00ff00"/>
<rect x="1131" y="289" width="3" height="9" fill="#00ff00"/>
<rect x="1136" y="292" width="1" height="20" fill="#00ff00"/>
<rect x="1135" y="298" width="3" height="11" fill="#00ff00"/>
<rect x="1140" y="309" width="1" height="50" fill="#00ff00"/>
<rect x="1139" y="318" width="3" height="17" fill="#00ff00"/>
<rect x="1144" y="330" width="1" height="42" fill="#00ff00"/>
<rect x="1143" y="334" width="3" height="20" fill="#00ff00"/>
<rect x="1148" y="335" width="1" height="29" fill="#00ff00"/>
<rect x="1147" y="353" width="3" height="1" fill="#00ff00"/>
<rect x="1152" y="343" width="1" height="34" fill="#00ff00"/>
<rect x="1151" y="353" width="3" height="23" fill="#00ff00"/>
<rect x="1156" y="374" width="1" height="85" fill="#00ff00"/>
<rect x="1155" y="374" width="3" height="59" fill="#00ff00"/>
<rect x="1160" y="427" width="1" height="19" fill="#00ff00"/>
<rect x="1159" y="432" width="3" height="7" fill="#00ff00"/>
<rect x="1164" y="458" width="1" height="62" fill="#ff0000"/>
<rect x="1163" y="468" width="3" height="7" fill="#ff0000"/>
<rect x="1168" y="435" width="1" height="64" fill="#ff0000"/>
<rect x="1167" y="453" width="3" height="16" fill="#ff0000"/>
<rect x="1172" y="417" width="1" height="40" fill="#ff0000"/>
<rect x="1171" y="430" width="3" height="24" fill="#ff0000"/>
<rect x="1176" y="360" width="1" height="98" fill="#ff0000"/>
<rect x="1175" y="360" width="3" height="71" fill="#ff0000"/>
<rect x="1180" y="353" width="1" height="59" fill="#00ff00"/>
<rect x="1179" y="360" width="3" height="2" fill="#00ff00"/>
<rect x="1184" y="352" width="1" height="22" fill="#ff0000"/>
<rect x="1183" y="354" width="3" height="7" fill="#ff0000"/>
<rect x="1188" y="367" width="1" height="60" fill="#ff0000"/>
<rect x="1187" y="390" width="3" height="9" fill="#ff0000"/>
<rect x="1192" y="312" width="1" height="91" fill="#ff0000"/>
<rect x="1191" y="312" width="3" height="81" fill="#ff0000"/>
<rect x="1196" y="272" width="1" height="75" fill="#ff0000"/>
<rect x="1195" y="276" width="3" height="36" fill="#ff0000"/>
<rect x="1200" y="222" width="1" height="87" fill="#ff0000"/>
<rect x="1199" y="224" width="3" height="52" fill="#ff0000"/>
<rect x="1204" y="205" width="1" height="64" fill="#ff0000"/>
<rect x="1203" y="213" width="3" height="12" fill="#ff0000"/>
<rect x="1208" y="201" width="1" height="21" fill="#ff0000"/>
<rect x="1207" y="204" width="3" height="11" fill="#ff0000"/>
<rect x="1212" y="206" width="1" height="44" fill="#00ff00"/>
<rect x="1211" y="210" width="3" height="22" fill="#00ff00"/>
<rect x="1216" y="223" width="1" height="59" fill="#00ff00"/>
<rect x="1215" y="232" width="3" height="7" fill="#00ff00"/>
<rect x="1220" y="224" width="1" height="31" fill="#00ff00"/>
<rect x="1219" y="238" width="3" height="16" fill="#00ff00"/>
<rect x="1224" y="252" width="1" height="64" fill="#00ff00"/>
<rect x="1223" y="253" width="3" height="61" fill="#00ff00"/>
<rect x="1228" y="310" width="1" height="44" fill="#00ff00"/>
<rect x="1227" y="313" width="3" height="40" fill="#00ff00"/>
<rect x="1232" y="343" width="1" height="22" fill="#00ff00"/>
<rect x="1231" y="352" width="3" height="12" fill="#00ff00"/>
<rect x="1236" y="329" width="1" height="49" fill="#ff0000"/>
<rect x="1235" y="330" width="3" height="40" fill="#ff0000"/>
<rect x="1240" y="295" width="1" height="52" fill="#ff0000"/>
<rect x="1239" y="320" width="3" height="10" fill="#ff0000"/>
<rect x="1244" y="295" width="1" height="33" fill="#ff0000"/>
<rect x="1243" y="300" width="3" height="22" fill="#ff0000"/>
<rect x="1248" y="274" width="1" height="39" fill="#ff0000"/>
<rect x="1247" y="280" width="3" height="20" fill="#ff0000"/>
<rect x="1252" y="246" width="1" height="36" fill="#ff0000"/>
<rect x="1251" y="256" width="3" height="22" fill="#ff0000"/>
<rect x="1256" y="249" width="1" height="15" fill="#00ff00"/>
<rect x="1255" y="256" width="3" height="7" fill="#00ff00"/>
<rect x="1260" y="246" width="1" height="17" fill="#ff0000"/>
<rect x="1259" y="258" width="3" height="4" fill="#ff0000"/>
<rect x="1264" y="248" width="1" height="46" fill="#00ff00"/>
<rect x="1263" y="260" width="3" height="27" fill="#00ff00"/>
<rect x="1268" y="283" width="1" height="13" fill="#ff0000"/>
<rect x="1267" y="285" width="3" height="2" fill="#ff0000"/>
</g>
<g>
<path d="M155 90.5h11M151 91.5h4M166 91.5h2M148 92.5h3M168 92.5h2M146 93.5h2M170 93.5h2M143 94.5h3M172 94.5h2M139 95.5h4M174 95.5h2M135 96.5h4M176 96.5h3M131 97.5h4M179 97.5h3M128 98.5h3M182 98.5h2M126 99.5h2M184 99.5h2M124 100.5h2M186 100.5h2M122 101.5h2M188 101.5h2M120 102.5h2M190 102.5h2M118 103.5h2M192 103.5h2M116 104.5h2M194 104.5h2M114 105.5h2M112 106.5h2M197 106.5h2M109 108.5h2M201 109.5h2M105 111.5h2M209 116.5h2M97 118.5h2M93 121.5h2M73 141.5h2M236 144.5h2M238 145.5h2M240 146.5h2M242 147.5h2M65 148.5h2M244 148.5h2M246 149.5h2M62 150.5h2M248 150.5h3M60 151.5h2M251 151.5h3M58 152.5h2M254 152.5h2M56 153.5h2M256 153.5h2M54 154.5h2M258 154.5h2M52 155.5h2M4 156.5h19M50 156.5h2M23 157.5h8M48 157.5h2M31 158.5h4M46 158.5h2M35 159.5h11M663 184.5h12M659 185.5h4M675 185.5h4M711 185.5h8M656 186.5h3M679 186.5h4M707 186.5h4M719 186.5h4M654 187.5h2M683 187.5h8M703 187.5h4M723 187.5h4M823 187.5h7M847 187.5h8M651 188.5h3M691 188.5h12M727 188.5h4M815 188.5h8M830 188.5h2M843 188.5h4M855 188.5h4M647 189.5h4M731 189.5h8M812 189.5h3M832 189.5h11M859 189.5h4M644 190.5h3M739 190.5h4M747 190.5h16M810 190.5h2M863 190.5h3M642 191.5h2M743 191.5h4M763 191.5h4M807 191.5h3M866 191.5h2M639 192.5h3M767 192.5h4M803 192.5h4M868 192.5h2M635 193.5h4M771 193.5h4M800 193.5h3M870 193.5h2M631 194.5h4M775 194.5h3M798 194.5h2M872 194.5h3M624 195.5h7M778 195.5h2M796 195.5h2M875 195.5h3M622 196.5h2M780 196.5h3M794 196.5h2M878 196.5h2M297 197.5h2M620 197.5h2M783 197.5h11M880 197.5h3M883 198.5h3M617 199.5h2M886 199.5h2M301 200.5h2M888 200.5h3M614 201.5h2M891 201.5h4M612 202.5h2M895 202.5h4M305 203.5h2M610 203.5h2M899 203.5h4M608 204.5h2M903 204.5h3M906 205.5h2M309 206.5h2M605 206.5h2M908 206.5h2M910 207.5h2M312 208.5h2M602 208.5h2M912 208.5h2M314 209.5h2M600 209.5h2M914 209.5h2M316 210.5h3M415 210.5h2M598 210.5h2M319 211.5h4M411 211.5h4M417 211.5h2M595 211.5h3M323 212.5h8M408 212.5h3M591 212.5h4M331 213.5h12M420 213.5h3M588 213.5h3M343 214.5h8M405 214.5h2M423 214.5h3M586 214.5h2M351 215.5h4M426 215.5h2M584 215.5h2M355 216.5h4M402 216.5h2M428 216.5h3M582 216.5h2M359 217.5h2M400 217.5h2M431 217.5h2M579 217.5h3M361 218.5h2M576 218.5h3M397 219.5h2M364 220.5h2M573 220.5h2M366 221.5h2M436 221.5h2M393 222.5h2M438 222.5h2M369 223.5h2M569 223.5h2M390 224.5h2M372 225.5h2M388 225.5h2M374 226.5h2M386 226.5h2M565 226.5h2M376 227.5h3M383 227.5h3M379 228.5h4M445 228.5h2M561 229.5h2M448 230.5h2M450 231.5h2M452 232.5h2M557 232.5h2M454 233.5h2M456 234.5h3M459 235.5h8M553 235.5h2M467 236.5h4M471 237.5h4M550 237.5h2M475 238.5h4M548 238.5h2M479 239.5h4M483 240.5h4M545 240.5h2M487 241.5h8M495 242.5h4M542 242.5h2M499 243.5h8M540 243.5h2M507 244.5h12M948 244.5h2M519 245.5h4M537 245.5h2M950 245.5h2M523 246.5h4M535 246.5h2M527 247.5h8M953 247.5h2M956 249.5h2M958 250.5h2M960 251.5h2M962 252.5h2M965 254.5h2M969 257.5h2M972 259.5h2M974 260.5h2M977 262.5h2M1127 266.5h4M1123 267.5h4M1131 267.5h4M984 268.5h2M1119 268.5h4M1135 268.5h4M986 269.5h2M1115 269.5h4M1139 269.5h2M1112 270.5h3M1141 270.5h2M989 271.5h2M1110 271.5h2M1107 272.5h3M992 273.5h2M1104 273.5h3M1145 273.5h2M994 274.5h2M996 275.5h2M1101 275.5h2M1148 275.5h2M998 276.5h2M1150 276.5h2M1000 277.5h3M1003 278.5h3M1097 278.5h2M1006 279.5h2M1008 280.5h3M1094 280.5h2M1011 281.5h3M1091 281.5h3M1014 282.5h2M1088 282.5h3M1016 283.5h2M1086 283.5h2M1018 284.5h2M1083 284.5h3M1020 285.5h3M1079 285.5h4M1023 286.5h4M1075 286.5h4M1027 287.5h3M1071 287.5h4M1030 288.5h2M1067 288.5h4M1032 289.5h3M1063 289.5h4M1035 290.5h3M1055 290.5h8M1038 291.5h2M1051 291.5h4M1040 292.5h11M1173 302.5h2M1181 309.5h2M1188 315.5h2M1207 315.5h12M1190 316.5h2M1203 316.5h4M1219 316.5h3M1192 317.5h3M1199 317.5h4M1222 317.5h2M1195 318.5h4M1266 322.5h2M1229 323.5h2M1264 323.5h2M1262 324.5h2M1260 325.5h2M1233 326.5h2M1257 327.5h2M1236 328.5h2M1255 328.5h2M1238 329.5h2M1252 329.5h3M1240 330.5h3M1250 330.5h2M1243 331.5h7M64.5 149v1M67.5 147v1M68.5 146v1M69.5 145v1M70.5 144v1M71.5 143v1M72.5 142v1M75.5 140v1M76.5 139v1M77.5 138v1M78.5 137v1M79.5 136v1M80.5 135v1M81.5 134v1M82.5 133v1M83.5 132v1M84.5 131v1M85.5 130v1M86.5 128v2M87.5 127v1M88.5 126v1M89.5 125v1M90.5 124v1M91.5 123v1M92.5 122v1M95.5 120v1M96.5 119v1M99.5 117v1M100.5 116v1M101.5 115v1M102.5 114v1M103.5 113v1M104.5 112v1M107.5 110v1M108.5 109v1M111.5 107v1M196.5 105v1M199.5 107v1M200.5 108v1M203.5 110v1M204.5 111v1M205.5 112v1M206.5 113v1M207.5 114v1M208.5 115v1M211.5 117v1M212.5 118v1M213.5 119v1M214.5 120v2M215.5 122v1M216.5 123v1M217.5 124v1M218.5 125v1M219.5 126v1M220.5 127v1M221.5 128v1M222.5 129v2M223.5 131v1M224.5 132v1M225.5 133v1M226.5 134v1M227.5 135v1M228.5 136v1M229.5 137v1M230.5 138v1M231.5 139v1M232.5 140v1M233.5 141v1M234.5 142v1M235.5 143v1M260.5 155v1M261.5 156v1M262.5 157v1M263.5 158v1M264.5 159v1M265.5 160v1M266.5 161v2M267.5 163v1M268.5 164v1M269.5 165v1M270.5 166v2M271.5 168v1M272.5 169v1M273.5 170v1M274.5 171v2M275.5 173v1M276.5 174v1M277.5 175v2M278.5 177v1M279.5 178v2M280.5 180v1M281.5 181v1M282.5 182v1M283.5 183v1M284.5 184v1M285.5 185v1M286.5 186v1M287.5 187v1M288.5 188v1M289.5 189v1M290.5 190v1M291.5 191v1M292.5 192v1M293.5 193v1M294.5 194v1M295.5 195v1M296.5 196v1M299.5 198v1M300.5 199v1M303.5 201v1M304.5 202v1M307.5 204v1M308.5 205v1M311.5 207v1M363.5 219v1M368.5 222v1M371.5 224v1M392.5 223v1M395.5 221v1M396.5 220v1M399.5 218v1M404.5 215v1M407.5 213v1M419.5 212v1M433.5 218v1M434.5 219v1M435.5 220v1M440.5 223v1M441.5 224v1M442.5 225v1M443.5 226v1M444.5 227v1M447.5 229v1M539.5 244v1M544.5 241v1M547.5 239v1M552.5 236v1M555.5 234v1M556.5 233v1M559.5 231v1M560.5 230v1M563.5 228v1M564.5 227v1M567.5 225v1M568.5 224v1M571.5 222v1M572.5 221v1M575.5 219v1M604.5 207v1M607.5 205v1M616.5 200v1M619.5 198v1M916.5 210v1M917.5 211v1M918.5 212v1M919.5 213v1M920.5 214v1M921.5 215v1M922.5 216v1M923.5 217v1M924.5 218v1M925.5 219v1M926.5 220v2M927.5 222v1M928.5 223v1M929.5 224v1M930.5 225v1M931.5 226v1M932.5 227v1M933.5 228v1M934.5 229v2M935.5 231v1M936.5 232v1M937.5 233v1M938.5 234v1M939.5 235v1M940.5 236v1M941.5 237v1M942.5 238v1M943.5 239v1M944.5 240v1M945.5 241v1M946.5 242v1M947.5 243v1M952.5 246v1M955.5 248v1M964.5 253v1M967.5 255v1M968.5 256v1M971.5 258v1M976.5 261v1M979.5 263v1M980.5 264v1M981.5 265v1M982.5 266v1M983.5 267v1M988.5 270v1M991.5 272v1M1096.5 279v1M1099.5 277v1M1100.5 276v1M1103.5 274v1M1143.5 271v1M1144.5 272v1M1147.5 274v1M1152.5 277v1M1153.5 278v1M1154.5 279v1M1155.5 280v1M1156.5 281v1M1157.5 282v1M1158.5 283v1M1159.5 284v1M1160.5 285v1M1161.5 286v2M1162.5 288v1M1163.5 289v2M1164.5 291v1M1165.5 292v1M1166.5 293v2M1167.5 295v1M1168.5 296v1M1169.5 297v1M1170.5 298v2M1171.5 300v1M1172.5 301v1M1175.5 303v1M1176.5 304v1M1177.5 305v1M1178.5 306v1M1179.5 307v1M1180.5 308v1M1183.5 310v1M1184.5 311v1M1185.5 312v1M1186.5 313v1M1187.5 314v1M1224.5 318v1M1225.5 319v1M1226.5 320v1M1227.5 321v1M1228.5 322v1M1231.5 324v1M1232.5 325v1M1235.5 327v1M1259.5 326v1M1268.5 321v1" fill="none" stroke="#0000cd" stroke-width="1" clip-path="url(#cm)"/>
<path d="M115 72.5h2M112 73.5h3M117 73.5h2M109 75.5h2M107 76.5h2M121 76.5h2M100 77.5h7M124 78.5h2M97 79.5h2M126 79.5h2M93 82.5h2M89 85.5h2M133 85.5h2M141 92.5h2M144 94.5h3M147 95.5h3M150 96.5h2M153 98.5h2M156 100.5h2M158 101.5h2M161 103.5h2M173 117.5h2M177 120.5h2M180 122.5h3M183 123.5h11M194 124.5h2M197 126.5h2M41 150.5h2M34 156.5h2M32 157.5h2M30 158.5h2M28 159.5h2M25 161.5h2M21 164.5h2M18 166.5h2M228 166.5h2M16 167.5h2M230 167.5h2M14 168.5h2M12 169.5h2M9 171.5h2M6 173.5h2M664 173.5h3M4 174.5h2M662 174.5h2M667 174.5h3M660 175.5h2M670 175.5h2M240 176.5h2M658 176.5h2M242 177.5h2M656 177.5h2M654 178.5h2M827 178.5h4M245 179.5h2M652 179.5h2M824 179.5h3M831 179.5h8M650 180.5h2M839 180.5h11M248 181.5h2M648 181.5h2M850 181.5h2M250 182.5h2M646 182.5h2M252 183.5h7M644 183.5h2M259 184.5h2M642 184.5h2M680 184.5h2M639 185.5h3M682 185.5h2M817 185.5h2M631 186.5h8M684 186.5h2M624 187.5h7M686 187.5h2M814 187.5h2M857 187.5h2M622 188.5h2M688 188.5h2M811 188.5h3M620 189.5h2M690 189.5h2M807 189.5h4M618 190.5h2M692 190.5h18M796 190.5h11M612 191.5h6M710 191.5h2M752 191.5h3M788 191.5h3M794 191.5h2M712 192.5h2M750 192.5h2M755 192.5h7M786 192.5h2M791 192.5h3M269 193.5h2M609 193.5h2M714 193.5h2M748 193.5h2M762 193.5h2M783 193.5h3M587 194.5h22M746 194.5h2M764 194.5h2M779 194.5h4M583 195.5h4M717 195.5h2M744 195.5h2M766 195.5h2M775 195.5h4M580 196.5h3M742 196.5h2M768 196.5h7M740 197.5h2M738 198.5h2M736 199.5h2M734 200.5h2M574 201.5h2M724 201.5h10M571 202.5h3M567 203.5h4M563 204.5h4M559 205.5h4M556 206.5h3M352 208.5h10M553 208.5h2M362 209.5h2M408 209.5h3M364 210.5h5M406 210.5h2M411 210.5h3M403 211.5h3M414 211.5h2M549 211.5h2M400 212.5h3M398 213.5h2M417 213.5h2M372 214.5h2M396 214.5h2M345 215.5h2M374 215.5h2M394 215.5h2M420 215.5h3M392 216.5h2M423 216.5h2M342 217.5h2M377 217.5h2M390 217.5h2M425 217.5h2M340 218.5h2M388 218.5h2M884 218.5h2M380 219.5h3M386 219.5h2M886 219.5h2M337 220.5h2M383 220.5h3M429 220.5h2M889 221.5h2M892 223.5h3M895 224.5h2M897 225.5h2M535 227.5h2M532 228.5h3M901 228.5h2M530 229.5h2M528 230.5h2M526 231.5h2M905 231.5h2M520 232.5h6M908 233.5h3M517 234.5h2M911 234.5h2M305 236.5h2M312 243.5h3M317 243.5h2M315 244.5h2M1111 247.5h15M1108 248.5h3M1126 248.5h2M1106 249.5h2M1104 250.5h2M1129 250.5h2M501 251.5h2M457 258.5h2M493 258.5h2M933 258.5h2M484 260.5h3M490 260.5h2M482 261.5h2M487 261.5h3M937 261.5h2M479 262.5h3M476 263.5h3M940 263.5h2M942 264.5h2M464 265.5h7M473 265.5h2M471 266.5h2M1082 276.5h2M956 277.5h2M1079 277.5h3M958 278.5h2M1076 278.5h3M1250 278.5h2M1253 278.5h2M960 279.5h2M1248 279.5h2M962 280.5h2M1073 280.5h2M1246 280.5h2M1244 281.5h2M1257 281.5h2M965 282.5h2M1070 282.5h2M1068 283.5h2M968 284.5h2M1066 284.5h2M970 285.5h2M1064 285.5h2M972 286.5h3M1062 286.5h2M975 287.5h3M1060 287.5h2M978 288.5h2M1058 288.5h2M980 289.5h3M1056 289.5h2M1237 289.5h2M983 290.5h12M995 291.5h4M1053 291.5h2M1234 291.5h2M999 292.5h8M1051 292.5h2M1228 292.5h6M1007 293.5h11M1027 293.5h16M1047 293.5h4M1018 294.5h2M1023 294.5h4M1043 294.5h4M1020 295.5h3M1188 387.5h5M8.5 172v1M11.5 170v1M20.5 165v1M23.5 163v1M24.5 162v1M27.5 160v1M36.5 155v1M37.5 154v1M38.5 153v1M39.5 152v1M40.5 151v1M43.5 149v1M44.5 148v1M45.5 147v1M46.5 145v2M47.5 144v1M48.5 143v1M49.5 141v2M50.5 140v1M51.5 138v2M52.5 137v1M53.5 136v1M54.5 134v2M55.5 133v1M56.5 132v1M57.5 131v1M58.5 130v1M59.5 129v1M60.5 127v2M61.5 125v2M62.5 123v2M63.5 121v2M64.5 120v1M65.5 118v2M66.5 117v1M67.5 115v2M68.5 114v1M69.5 112v2M70.5 111v1M71.5 109v2M72.5 108v1M73.5 107v1M74.5 105v2M75.5 104v1M76.5 103v1M77.5 102v1M78.5 100v2M79.5 99v1M80.5 98v1M81.5 96v2M82.5 95v1M83.5 93v2M84.5 92v1M85.5 90v2M86.5 89v1M87.5 87v2M88.5 86v1M91.5 84v1M92.5 83v1M95.5 81v1M96.5 80v1M99.5 78v1M111.5 74v1M119.5 74v1M120.5 75v1M123.5 77v1M128.5 80v1M129.5 81v1M130.5 82v1M131.5 83v1M132.5 84v1M135.5 86v1M136.5 87v1M137.5 88v1M138.5 89v1M139.5 90v1M140.5 91v1M143.5 93v1M152.5 97v1M155.5 99v1M160.5 102v1M163.5 104v1M164.5 105v1M165.5 106v2M166.5 108v1M167.5 109v2M168.5 111v1M169.5 112v1M170.5 113v2M171.5 115v1M172.5 116v1M175.5 118v1M176.5 119v1M179.5 121v1M196.5 125v1M199.5 127v1M200.5 128v1M201.5 129v1M202.5 130v1M203.5 131v1M204.5 132v1M205.5 133v1M206.5 134v2M207.5 136v1M208.5 137v1M209.5 138v2M210.5 140v1M211.5 141v2M212.5 143v1M213.5 144v2M214.5 146v2M215.5 148v2M216.5 150v1M217.5 151v2M218.5 153v1M219.5 154v2M220.5 156v1M221.5 157v2M222.5 159v1M223.5 160v2M224.5 162v1M225.5 163v1M226.5 164v1M227.5 165v1M232.5 168v1M233.5 169v1M234.5 170v1M235.5 171v1M236.5 172v1M237.5 173v1M238.5 174v1M239.5 175v1M244.5 178v1M247.5 180v1M261.5 185v1M262.5 186v1M263.5 187v1M264.5 188v1M265.5 189v1M266.5 190v1M267.5 191v1M268.5 192v1M271.5 194v1M272.5 195v1M273.5 196v1M274.5 197v2M275.5 199v1M276.5 200v1M277.5 201v1M278.5 202v2M279.5 204v1M280.5 205v1M281.5 206v1M282.5 207v1M283.5 208v1M284.5 209v1M285.5 210v1M286.5 211v2M287.5 213v1M288.5 214v1M289.5 215v2M290.5 217v1M291.5 218v2M292.5 220v1M293.5 221v2M294.5 223v1M295.5 224v2M296.5 226v1M297.5 227v1M298.5 228v1M299.5 229v1M300.5 230v1M301.5 231v1M302.5 232v2M303.5 234v1M304.5 235v1M307.5 237v1M308.5 238v1M309.5 239v1M310.5 240v2M311.5 242v1M319.5 242v1M320.5 241v1M321.5 240v1M322.5 238v2M323.5 237v1M324.5 236v1M325.5 235v1M326.5 233v2M327.5 232v1M328.5 231v1M329.5 230v1M330.5 228v2M331.5 227v1M332.5 226v1M333.5 225v1M334.5 223v2M335.5 222v1M336.5 221v1M339.5 219v1M344.5 216v1M347.5 214v1M348.5 213v1M349.5 212v1M350.5 210v2M351.5 209v1M369.5 211v1M370.5 212v1M371.5 213v1M376.5 216v1M379.5 218v1M416.5 212v1M419.5 214v1M427.5 218v1M428.5 219v1M431.5 221v1M432.5 222v1M433.5 223v1M434.5 224v2M435.5 226v1M436.5 227v1M437.5 228v2M438.5 230v1M439.5 231v2M440.5 233v1M441.5 234v2M442.5 236v2M443.5 238v2M444.5 240v1M445.5 241v2M446.5 243v2M447.5 245v2M448.5 247v1M449.5 248v1M450.5 249v2M451.5 251v1M452.5 252v1M453.5 253v1M454.5 254v2M455.5 256v1M456.5 257v1M459.5 259v1M460.5 260v1M461.5 261v1M462.5 262v2M463.5 264v1M475.5 264v1M492.5 259v1M495.5 257v1M496.5 256v1M497.5 255v1M498.5 254v1M499.5 253v1M500.5 252v1M503.5 250v1M504.5 249v1M505.5 247v2M506.5 246v1M507.5 244v2M508.5 243v1M509.5 242v1M510.5 241v1M511.5 240v1M512.5 239v1M513.5 238v1M514.5 237v1M515.5 236v1M516.5 235v1M519.5 233v1M537.5 226v1M538.5 224v2M539.5 223v1M540.5 222v1M541.5 220v2M542.5 219v1M543.5 217v2M544.5 216v1M545.5 215v1M546.5 214v1M547.5 213v1M548.5 212v1M551.5 210v1M552.5 209v1M555.5 207v1M576.5 200v1M577.5 199v1M578.5 198v1M579.5 197v1M611.5 192v1M672.5 176v1M673.5 177v1M674.5 178v1M675.5 179v1M676.5 180v1M677.5 181v1M678.5 182v1M679.5 183v1M716.5 194v1M719.5 196v1M720.5 197v1M721.5 198v1M722.5 199v1M723.5 200v1M816.5 186v1M819.5 184v1M820.5 183v1M821.5 182v1M822.5 181v1M823.5 180v1M852.5 182v1M853.5 183v1M854.5 184v1M855.5 185v1M856.5 186v1M859.5 188v1M860.5 189v1M861.5 190v1M862.5 191v1M863.5 192v1M864.5 193v1M865.5 194v1M866.5 195v2M867.5 197v1M868.5 198v1M869.5 199v1M870.5 200v2M871.5 202v1M872.5 203v1M873.5 204v1M874.5 205v2M875.5 207v1M876.5 208v1M877.5 209v2M878.5 211v1M879.5 212v2M880.5 214v1M881.5 215v1M882.5 216v1M883.5 217v1M888.5 220v1M891.5 222v1M899.5 226v1M900.5 227v1M903.5 229v1M904.5 230v1M907.5 232v1M913.5 235v1M914.5 236v1M915.5 237v1M916.5 238v1M917.5 239v1M918.5 240v1M919.5 241v1M920.5 242v1M921.5 243v1M922.5 244v1M923.5 245v1M924.5 246v1M925.5 247v1M926.5 248v2M927.5 250v1M928.5 251v1M929.5 252v2M930.5 254v1M931.5 255v2M932.5 257v1M935.5 259v1M936.5 260v1M939.5 262v1M944.5 265v1M945.5 266v1M946.5 267v1M947.5 268v1M948.5 269v1M949.5 270v1M950.5 271v1M951.5 272v1M952.5 273v1M953.5 274v1M954.5 275v1M955.5 276v1M964.5 281v1M967.5 283v1M1055.5 290v1M1072.5 281v1M1075.5 279v1M1084.5 275v1M1085.5 274v1M1086.5 273v1M1087.5 272v1M1088.5 271v1M1089.5 269v2M1090.5 268v1M1091.5 266v2M1092.5 265v1M1093.5 263v2M1094.5 262v1M1095.5 260v2M1096.5 259v1M1097.5 258v1M1098.5 256v2M1099.5 255v1M1100.5 254v1M1101.5 253v1M1102.5 252v1M1103.5 251v1M1128.5 249v1M1131.5 251v1M1132.5 252v1M1133.5 253v1M1134.5 254v1M1135.5 255v1M1136.5 256v1M1137.5 257v2M1138.5 259v2M1139.5 261v2M1140.5 263v2M1141.5 265v2M1142.5 267v2M1143.5 269v2M1144.5 271v2M1145.5 273v2M1146.5 275v2M1147.5 277v2M1148.5 279v3M1149.5 282v2M1150.5 284v3M1151.5 287v2M1152.5 289v3M1153.5 292v4M1154.5 296v3M1155.5 299v4M1156.5 303v3M1157.5 306v4M1158.5 310v4M1159.5 314v4M1160.5 318v3M1161.5 321v4M1162.5 325v4M1163.5 329v4M1164.5 333v3M1165.5 336v4M1166.5 340v3M1167.5 343v4M1168.5 347v3M1169.5 350v3M1170.5 353v4M1171.5 357v3M1172.5 360v2M1173.5 362v2M1174.5 364v2M1175.5 366v2M1176.5 368v2M1177.5 370v2M1178.5 372v2M1179.5 374v2M1180.5 376v1M1181.5 377v1M1182.5 378v1M1183.5 379v1M1184.5 380v1M1185.5 381v2M1186.5 383v2M1187.5 385v2M1193.5 386v1M1194.5 385v1M1195.5 384v1M1196.5 382v2M1197.5 380v2M1198.5 378v2M1199.5 376v2M1200.5 373v3M1201.5 371v2M1202.5 368v3M1203.5 366v2M1204.5 363v3M1205.5 360v3M1206.5 356v4M1207.5 353v3M1208.5 350v3M1209.5 346v4M1210.5 343v3M1211.5 339v4M1212.5 336v3M1213.5 332v4M1214.5 329v3M1215.5 325v4M1216.5 321v4M1217.5 317v4M1218.5 313v4M1219.5 309v4M1220.5 306v3M1221.5 304v2M1222.5 301v3M1223.5 299v2M1224.5 297v2M1225.5 296v1M1226.5 294v2M1227.5 293v1M1236.5 290v1M1239.5 288v1M1240.5 287v1M1241.5 285v2M1242.5 284v1M1243.5 282v2M1252.5 277v1M1255.5 279v1M1256.5 280v1M1259.5 282v1M1260.5 283v1M1261.5 284v2M1262.5 286v1M1263.5 287v2M1264.5 289v1M1265.5 290v1M1266.5 291v1M1267.5 292v1M1268.5 293v1" fill="none" stroke="#ff0000" stroke-width="1" clip-path="url(#cm)"/>
<path d="M80 68.5h2M82 69.5h2M87 69.5h2M77 70.5h2M84 70.5h3M112 73.5h5M92 74.5h3M95 75.5h4M99 76.5h2M101 77.5h2M104 79.5h2M106 80.5h3M65 82.5h2M137 111.5h2M152 111.5h3M159 111.5h4M155 112.5h4M163 112.5h2M140 113.5h3M143 114.5h4M147 115.5h2M194 130.5h2M192 131.5h2M186 137.5h2M180 138.5h6M29 150.5h2M27 151.5h2M24 152.5h3M21 154.5h2M19 155.5h2M16 156.5h3M14 157.5h2M11 158.5h3M8 159.5h3M6 160.5h2M4 161.5h2M822 161.5h2M820 162.5h2M259 163.5h2M818 163.5h2M256 164.5h3M816 164.5h2M813 166.5h2M664 169.5h5M661 171.5h2M629 172.5h2M635 173.5h2M632 174.5h3M657 174.5h2M654 176.5h2M759 176.5h2M640 177.5h2M652 177.5h2M756 177.5h3M642 178.5h2M650 178.5h2M754 178.5h2M644 179.5h6M752 179.5h2M712 180.5h2M714 181.5h2M709 182.5h2M580 186.5h3M578 187.5h2M583 187.5h2M576 188.5h2M585 188.5h2M613 188.5h2M573 190.5h2M407 191.5h2M400 192.5h7M333 193.5h2M329 194.5h2M564 195.5h3M562 196.5h2M567 196.5h2M555 197.5h7M592 197.5h2M552 198.5h3M594 198.5h2M607 198.5h2M596 199.5h11M549 200.5h2M791 200.5h2M788 201.5h3M225 203.5h2M844 203.5h2M846 204.5h2M850 204.5h2M853 204.5h2M228 205.5h5M780 205.5h5M848 205.5h2M856 206.5h3M859 207.5h2M525 210.5h2M735 213.5h2M689 214.5h2M732 214.5h3M532 216.5h2M348 217.5h6M360 217.5h2M534 217.5h2M537 217.5h2M354 218.5h2M358 218.5h2M362 218.5h2M356 219.5h2M364 219.5h2M366 220.5h2M872 221.5h2M874 222.5h2M372 228.5h3M375 229.5h4M379 230.5h2M1103 235.5h2M1100 236.5h3M1105 236.5h2M888 238.5h2M907 238.5h6M890 239.5h2M900 239.5h7M892 240.5h3M898 240.5h2M895 241.5h3M481 243.5h2M1113 243.5h2M477 244.5h2M488 251.5h3M491 252.5h7M498 253.5h3M1079 257.5h2M1076 258.5h3M1074 259.5h2M1072 260.5h2M1069 262.5h2M284 265.5h2M286 266.5h2M288 267.5h2M290 268.5h2M293 268.5h2M1264 269.5h3M1262 270.5h2M1267 270.5h2M1260 271.5h2M439 273.5h2M436 274.5h3M448 278.5h2M450 279.5h2M445 280.5h2M968 280.5h6M974 281.5h2M1028 281.5h3M965 282.5h2M1031 282.5h2M963 283.5h2M960 284.5h3M958 285.5h2M955 286.5h3M952 287.5h3M1021 288.5h2M1018 290.5h2M944 291.5h5M1015 291.5h3M937 292.5h2M1012 292.5h3M941 293.5h2M1009 294.5h2M1007 295.5h2M1004 296.5h3M985 299.5h2M998 302.5h2M996 303.5h2M994 304.5h2M992 305.5h2M1240 335.5h3M23.5 153v1M31.5 149v1M32.5 148v1M33.5 147v1M34.5 146v1M35.5 145v1M36.5 144v1M37.5 143v1M38.5 142v1M39.5 141v1M40.5 140v1M41.5 138v2M42.5 137v1M43.5 135v2M44.5 133v2M45.5 130v3M46.5 126v4M47.5 123v3M48.5 120v3M49.5 117v3M50.5 115v2M51.5 112v3M52.5 109v3M53.5 107v2M54.5 105v2M55.5 103v2M56.5 100v3M57.5 98v2M58.5 96v2M59.5 94v2M60.5 92v2M61.5 90v2M62.5 87v3M63.5 85v2M64.5 83v2M67.5 81v1M68.5 80v1M69.5 79v1M70.5 78v1M71.5 77v1M72.5 76v1M73.5 75v1M74.5 73v2M75.5 72v1M76.5 71v1M79.5 69v1M89.5 70v1M90.5 71v2M91.5 73v1M103.5 78v1M108.5 81v1M109.5 78v2M110.5 76v2M111.5 74v2M117.5 74v1M118.5 75v1M119.5 76v1M120.5 77v1M121.5 78v2M122.5 80v1M123.5 81v2M124.5 83v1M125.5 84v1M126.5 85v2M127.5 87v1M128.5 88v2M129.5 90v4M130.5 94v3M131.5 97v4M132.5 101v3M133.5 104v2M134.5 106v2M135.5 108v2M136.5 110v1M139.5 112v1M149.5 114v1M150.5 113v1M151.5 112v1M165.5 113v2M166.5 115v1M167.5 116v2M168.5 118v2M169.5 120v2M170.5 122v2M171.5 124v2M172.5 126v1M173.5 127v2M174.5 129v1M175.5 130v2M176.5 132v1M177.5 133v2M178.5 135v1M179.5 136v2M188.5 136v1M189.5 135v1M190.5 133v2M191.5 132v1M196.5 129v1M197.5 130v1M198.5 131v1M199.5 132v1M200.5 133v2M201.5 135v2M202.5 137v2M203.5 139v2M204.5 141v2M205.5 143v3M206.5 146v2M207.5 148v3M208.5 151v3M209.5 154v4M210.5 158v3M211.5 161v4M212.5 165v3M213.5 168v3M214.5 171v4M215.5 175v3M216.5 178v3M217.5 181v3M218.5 184v3M219.5 187v3M220.5 190v3M221.5 193v3M222.5 196v2M223.5 198v3M224.5 201v2M227.5 204v1M233.5 203v2M234.5 202v1M235.5 200v2M236.5 199v1M237.5 197v2M238.5 196v1M239.5 194v2M240.5 192v2M241.5 189v3M242.5 187v2M243.5 184v3M244.5 181v3M245.5 179v2M246.5 177v2M247.5 175v2M248.5 174v1M249.5 173v1M250.5 171v2M251.5 170v1M252.5 169v1M253.5 168v1M254.5 166v2M255.5 165v1M260.5 164v1M261.5 165v4M262.5 169v4M263.5 173v4M264.5 177v4M265.5 181v4M266.5 185v5M267.5 190v4M268.5 194v5M269.5 199v5M270.5 204v4M271.5 208v5M272.5 213v6M273.5 219v6M274.5 225v6M275.5 231v6M276.5 237v6M277.5 243v5M278.5 248v5M279.5 253v5M280.5 258v3M281.5 261v1M282.5 262v2M283.5 264v1M292.5 269v1M295.5 267v1M296.5 265v2M297.5 262v3M298.5 258v4M299.5 255v3M300.5 252v3M301.5 250v2M302.5 248v2M303.5 246v2M304.5 244v2M305.5 242v2M306.5 240v2M307.5 238v2M308.5 235v3M309.5 233v2M310.5 231v2M311.5 229v2M312.5 227v2M313.5 223v4M314.5 219v4M315.5 215v4M316.5 213v2M317.5 212v1M318.5 210v2M319.5 209v1M320.5 208v1M321.5 206v2M322.5 204v2M323.5 202v2M324.5 201v1M325.5 199v2M326.5 198v1M327.5 196v2M328.5 195v1M331.5 193v1M332.5 192v1M335.5 194v1M336.5 195v1M337.5 196v2M338.5 198v2M339.5 200v2M340.5 202v2M341.5 204v2M342.5 206v2M343.5 208v2M344.5 210v1M345.5 211v2M346.5 213v2M347.5 215v2M368.5 221v1M369.5 222v2M370.5 224v2M371.5 226v2M381.5 228v2M382.5 226v2M383.5 224v2M384.5 222v2M385.5 220v2M386.5 218v2M387.5 216v2M388.5 213v3M389.5 210v3M390.5 207v3M391.5 204v3M392.5 202v2M393.5 200v2M394.5 199v1M395.5 197v2M396.5 196v1M397.5 195v1M398.5 194v1M399.5 193v1M408.5 192v1M409.5 193v3M410.5 196v2M411.5 198v3M412.5 201v3M413.5 204v2M414.5 206v2M415.5 208v2M416.5 210v3M417.5 213v4M418.5 217v4M419.5 221v4M420.5 225v4M421.5 229v2M422.5 231v3M423.5 234v2M424.5 236v4M425.5 240v5M426.5 245v5M427.5 250v5M428.5 255v3M429.5 258v2M430.5 260v1M431.5 261v2M432.5 263v2M433.5 265v3M434.5 268v2M435.5 270v3M436.5 273v1M440.5 274v1M441.5 275v2M442.5 277v2M443.5 279v2M444.5 281v1M447.5 279v1M452.5 280v1M453.5 279v1M454.5 277v2M455.5 276v1M456.5 275v1M457.5 273v2M458.5 271v2M459.5 269v2M460.5 267v2M461.5 265v2M462.5 263v2M463.5 261v2M464.5 260v1M465.5 259v1M466.5 257v2M467.5 256v1M468.5 255v1M469.5 254v1M470.5 252v2M471.5 251v1M472.5 250v1M473.5 249v1M474.5 247v2M475.5 246v1M476.5 245v1M479.5 243v1M480.5 242v1M483.5 244v1M484.5 245v1M485.5 246v2M486.5 248v1M487.5 249v2M500.5 254v1M501.5 251v2M502.5 249v2M503.5 247v2M504.5 244v3M505.5 240v4M506.5 237v3M507.5 233v4M508.5 230v3M509.5 227v3M510.5 224v3M511.5 221v3M512.5 218v3M513.5 216v2M514.5 214v2M515.5 212v2M516.5 211v1M517.5 209v2M518.5 208v1M519.5 206v2M520.5 205v1M521.5 206v1M522.5 207v1M523.5 208v1M524.5 209v1M527.5 211v1M528.5 212v1M529.5 213v1M530.5 214v1M531.5 215v1M536.5 218v1M539.5 216v1M540.5 214v2M541.5 212v2M542.5 210v2M543.5 208v2M544.5 207v1M545.5 205v2M546.5 204v1M547.5 202v2M548.5 201v1M551.5 199v1M569.5 195v1M570.5 193v2M571.5 192v1M572.5 191v1M575.5 189v1M587.5 189v1M588.5 190v1M589.5 191v2M590.5 193v2M591.5 195v2M608.5 197v1M609.5 195v2M610.5 193v2M611.5 191v2M612.5 189v2M615.5 187v1M616.5 186v1M617.5 185v1M618.5 183v2M619.5 182v1M620.5 181v1M621.5 180v1M622.5 178v2M623.5 177v1M624.5 176v1M625.5 175v1M626.5 173v2M627.5 172v1M628.5 171v1M631.5 173v1M637.5 174v1M638.5 175v1M639.5 176v1M656.5 175v1M659.5 173v1M660.5 172v1M663.5 170v1M668.5 170v1M669.5 171v2M670.5 173v2M671.5 175v2M672.5 177v2M673.5 179v3M674.5 182v2M675.5 184v3M676.5 187v3M677.5 190v3M678.5 193v2M679.5 195v3M680.5 198v3M681.5 201v2M682.5 203v3M683.5 206v2M684.5 208v2M685.5 210v2M686.5 212v1M687.5 213v2M688.5 215v1M691.5 213v1M692.5 212v1M693.5 210v2M694.5 209v1M695.5 207v2M696.5 205v2M697.5 203v2M698.5 201v2M699.5 199v2M700.5 197v2M701.5 195v2M702.5 193v2M703.5 191v2M704.5 190v1M705.5 188v2M706.5 186v2M707.5 184v2M708.5 183v1M711.5 181v1M716.5 182v1M717.5 183v2M718.5 185v2M719.5 187v2M720.5 189v2M721.5 191v2M722.5 193v2M723.5 195v2M724.5 197v3M725.5 200v2M726.5 202v2M727.5 204v2M728.5 206v2M729.5 208v2M730.5 210v2M731.5 212v2M737.5 211v2M738.5 210v1M739.5 208v2M740.5 206v2M741.5 204v2M742.5 202v2M743.5 200v2M744.5 198v2M745.5 196v2M746.5 193v3M747.5 191v2M748.5 188v3M749.5 186v2M750.5 183v3M751.5 181v2M752.5 180v1M761.5 177v1M762.5 178v2M763.5 180v1M764.5 181v1M765.5 182v2M766.5 184v2M767.5 186v2M768.5 188v2M769.5 190v2M770.5 192v2M771.5 194v2M772.5 196v1M773.5 197v1M774.5 198v1M775.5 199v1M776.5 200v1M777.5 201v1M778.5 202v2M779.5 204v1M785.5 204v1M786.5 203v1M787.5 202v1M793.5 198v2M794.5 197v1M795.5 195v2M796.5 193v2M797.5 191v2M798.5 189v2M799.5 187v2M800.5 186v1M801.5 184v2M802.5 183v1M803.5 181v2M804.5 180v1M805.5 178v2M806.5 177v1M807.5 175v2M808.5 174v1M809.5 172v2M810.5 170v2M811.5 168v2M812.5 167v1M815.5 165v1M824.5 160v1M825.5 161v1M826.5 162v1M827.5 163v1M828.5 164v2M829.5 166v3M830.5 169v3M831.5 172v3M832.5 175v3M833.5 178v2M834.5 180v2M835.5 182v2M836.5 184v2M837.5 186v3M838.5 189v2M839.5 191v3M840.5 194v3M841.5 197v2M842.5 199v2M843.5 201v2M852.5 203v1M855.5 205v1M861.5 208v1M862.5 209v1M863.5 210v1M864.5 211v1M865.5 212v2M866.5 214v1M867.5 215v2M868.5 217v1M869.5 218v1M870.5 219v1M871.5 220v1M876.5 223v1M877.5 224v2M878.5 226v1M879.5 227v2M880.5 229v1M881.5 230v1M882.5 231v2M883.5 233v1M884.5 234v1M885.5 235v1M886.5 236v1M887.5 237v1M913.5 239v2M914.5 241v2M915.5 243v2M916.5 245v2M917.5 247v2M918.5 249v2M919.5 251v2M920.5 253v2M921.5 255v2M922.5 257v3M923.5 260v2M924.5 262v3M925.5 265v2M926.5 267v3M927.5 270v2M928.5 272v3M929.5 275v3M930.5 278v4M931.5 282v3M932.5 285v2M933.5 287v1M934.5 288v2M935.5 290v1M936.5 291v1M939.5 293v1M940.5 294v1M943.5 292v1M949.5 290v1M950.5 289v1M951.5 288v1M967.5 281v1M976.5 282v1M977.5 283v2M978.5 285v2M979.5 287v2M980.5 289v2M981.5 291v2M982.5 293v2M983.5 295v2M984.5 297v2M987.5 300v1M988.5 301v1M989.5 302v1M990.5 303v1M991.5 304v1M1000.5 301v1M1001.5 300v1M1002.5 298v2M1003.5 297v1M1011.5 293v1M1020.5 289v1M1023.5 287v1M1024.5 286v1M1025.5 285v1M1026.5 283v2M1027.5 282v1M1033.5 283v2M1034.5 285v1M1035.5 286v2M1036.5 288v1M1037.5 289v1M1038.5 290v2M1039.5 292v1M1040.5 293v1M1041.5 294v2M1042.5 296v2M1043.5 298v2M1044.5 300v1M1045.5 301v1M1046.5 302v2M1047.5 304v1M1048.5 305v1M1049.5 304v1M1050.5 303v1M1051.5 302v1M1052.5 300v2M1053.5 298v2M1054.5 296v2M1055.5 294v2M1056.5 291v3M1057.5 288v3M1058.5 285v3M1059.5 282v3M1060.5 279v3M1061.5 277v2M1062.5 274v3M1063.5 272v2M1064.5 270v2M1065.5 268v2M1066.5 266v2M1067.5 264v2M1068.5 263v1M1071.5 261v1M1081.5 256v1M1082.5 255v1M1083.5 254v1M1084.5 253v1M1085.5 252v1M1086.5 251v1M1087.5 250v1M1088.5 249v1M1089.5 248v1M1090.5 247v1M1091.5 246v1M1092.5 245v1M1093.5 244v1M1094.5 242v2M1095.5 241v1M1096.5 240v1M1097.5 239v1M1098.5 238v1M1099.5 237v1M1107.5 237v1M1108.5 238v1M1109.5 239v1M1110.5 240v1M1111.5 241v1M1112.5 242v1M1115.5 244v1M1116.5 245v1M1117.5 246v2M1118.5 248v1M1119.5 249v2M1120.5 251v1M1121.5 252v1M1122.5 253v2M1123.5 255v1M1124.5 256v1M1125.5 257v2M1126.5 259v2M1127.5 261v2M1128.5 263v2M1129.5 265v2M1130.5 267v2M1131.5 269v2M1132.5 271v2M1133.5 273v3M1134.5 276v2M1135.5 278v3M1136.5 281v3M1137.5 284v4M1138.5 288v4M1139.5 292v4M1140.5 296v4M1141.5 300v5M1142.5 305v5M1143.5 310v5M1144.5 315v4M1145.5 319v3M1146.5 322v4M1147.5 326v3M1148.5 329v4M1149.5 333v4M1150.5 337v4M1151.5 341v4M1152.5 345v5M1153.5 350v6M1154.5 356v6M1155.5 362v6M1156.5 368v5M1157.5 373v5M1158.5 378v6M1159.5 384v5M1160.5 389v5M1161.5 394v6M1162.5 400v6M1163.5 406v6M1164.5 412v5M1165.5 417v5M1166.5 422v5M1167.5 427v5M1168.5 432v4M1169.5 436v2M1170.5 438v3M1171.5 441v2M1172.5 443v2M1173.5 439v4M1174.5 436v3M1175.5 432v4M1176.5 429v3M1177.5 425v4M1178.5 421v4M1179.5 417v4M1180.5 413v4M1181.5 407v6M1182.5 401v6M1183.5 395v6M1184.5 391v4M1185.5 388v3M1186.5 384v4M1187.5 381v3M1188.5 377v4M1189.5 371v6M1190.5 365v6M1191.5 359v6M1192.5 354v5M1193.5 350v4M1194.5 346v4M1195.5 342v4M1196.5 336v6M1197.5 329v7M1198.5 322v7M1199.5 315v7M1200.5 308v7M1201.5 301v7M1202.5 294v7M1203.5 287v7M1204.5 279v8M1205.5 270v9M1206.5 260v10M1207.5 251v9M1208.5 244v7M1209.5 240v4M1210.5 236v4M1211.5 232v4M1212.5 229v3M1213.5 227v2M1214.5 225v2M1215.5 223v2M1216.5 222v1M1217.5 223v2M1218.5 225v1M1219.5 226v2M1220.5 228v3M1221.5 231v5M1222.5 236v5M1223.5 241v5M1224.5 246v6M1225.5 252v8M1226.5 260v7M1227.5 267v8M1228.5 275v7M1229.5 282v7M1230.5 289v6M1231.5 295v7M1232.5 302v6M1233.5 308v4M1234.5 312v5M1235.5 317v4M1236.5 321v4M1237.5 325v3M1238.5 328v4M1239.5 332v3M1240.5 336v1M1243.5 334v1M1244.5 332v2M1245.5 328v4M1246.5 325v3M1247.5 321v4M1248.5 317v4M1249.5 311v6M1250.5 306v5M1251.5 300v6M1252.5 296v4M1253.5 293v3M1254.5 289v4M1255.5 286v3M1256.5 283v3M1257.5 280v3M1258.5 276v4M1259.5 273v3M1260.5 272v1" fill="none" stroke="#ffa500" stroke-width="1" clip-path="url(#cm)"/>
</g>
<rect x="4" y="101" width="1593" height="2" fill="#ff0000"/>
<rect x="4" y="163" width="1593" height="2" fill="#ff0000"/>
<rect x="4" y="212" width="1593" height="2" fill="#ff0000"/>
<rect x="4" y="258" width="1593" height="2" fill="#ff0000"/>
<rect x="4" y="296" width="1593" height="2" fill="#00ff00"/>
<rect x="4" y="347" width="1593" height="2" fill="#0000ff"/>
<rect x="4" y="403" width="1593" height="2" fill="#0000ff"/>
<rect x="4" y="465" width="1593" height="2" fill="#0000ff"/>
<rect x="4" y="256" width="5" height="6" fill="#ff0000"/>
<rect x="3" y="256" width="6" height="6" fill="#ff0000"/>
<rect x="5" y="258" width="2" height="2" fill="#fff"/>
<rect x="1590" y="256" width="6" height="6" fill="#ff0000"/>
<rect x="1592" y="258" width="2" height="2" fill="#fff"/>
<rect x="4" y="294" width="5" height="6" fill="#00ff00"/>
<rect x="3" y="294" width="6" height="6" fill="#00ff00"/>
<rect x="5" y="296" width="2" height="2" fill="#fff"/>
<rect x="1590" y="294" width="6" height="6" fill="#00ff00"/>
<rect x="1592" y="296" width="2" height="2" fill="#fff"/>
<rect x="4" y="345" width="5" height="6" fill="#0000ff"/>
<rect x="3" y="345" width="6" height="6" fill="#0000ff"/>
<rect x="5" y="347" width="2" height="2" fill="#fff"/>
<rect x="1590" y="345" width="6" height="6" fill="#0000ff"/>
<rect x="1592" y="347" width="2" height="2" fill="#fff"/>
<rect x="4" y="463" width="5" height="6" fill="#0000ff"/>
<rect x="3" y="463" width="6" height="6" fill="#0000ff"/>
<rect x="5" y="465" width="2" height="2" fill="#fff"/>
<rect x="1590" y="463" width="6" height="6" fill="#0000ff"/>
<rect x="1592" y="465" width="2" height="2" fill="#fff"/>
<rect x="1597" y="0" width="0" height="0" fill="#fff"/>
<rect x="1597" y="33" width="2" height="1" fill="#000"/>
<text x="1601.8" y="37" font-size="9.5" fill="#000" stroke="#000" stroke-width="0.15" textLength="33.7" lengthAdjust="spacingAndGlyphs">1.02750</text>
<rect x="1597" y="66" width="2" height="1" fill="#000"/>
<text x="1601.8" y="70" font-size="9.5" fill="#000" stroke="#000" stroke-width="0.15" textLength="33.7" lengthAdjust="spacingAndGlyphs">1.02010</text>
<rect x="1597" y="99" width="2" height="1" fill="#000"/>
<text x="1601.8" y="103" font-size="9.5" fill="#000" stroke="#000" stroke-width="0.15" textLength="33.7" lengthAdjust="spacingAndGlyphs">1.01270</text>
<rect x="1597" y="132" width="2" height="1" fill="#000"/>
<text x="1601.8" y="136" font-size="9.5" fill="#000" stroke="#000" stroke-width="0.15" textLength="33.7" lengthAdjust="spacingAndGlyphs">1.00530</text>
<rect x="1597" y="165" width="2" height="1" fill="#000"/>
<text x="1601.8" y="169" font-size="9.5" fill="#000" stroke="#000" stroke-width="0.15" textLength="33.7" lengthAdjust="spacingAndGlyphs">0.99790</text>
<rect x="1597" y="198" width="2" height="1" fill="#000"/>
<text x="1601.8" y="202" font-size="9.5" fill="#000" stroke="#000" stroke-width="0.15" textLength="33.7" lengthAdjust="spacingAndGlyphs">0.99030</text>
<rect x="1597" y="231" width="2" height="1" fill="#000"/>
<text x="1601.8" y="235" font-size="9.5" fill="#000" stroke="#000" stroke-width="0.15" textLength="33.7" lengthAdjust="spacingAndGlyphs">0.98290</text>
<rect x="1597" y="264" width="2" height="1" fill="#000"/>
<text x="1601.8" y="268" font-size="9.5" fill="#000" stroke="#000" stroke-width="0.15" textLength="33.7" lengthAdjust="spacingAndGlyphs">0.97550</text>
<rect x="1597" y="297" width="2" height="1" fill="#000"/>
<text x="1601.8" y="301" font-size="9.5" fill="#000" stroke="#000" stroke-width="0.15" textLength="33.7" lengthAdjust="spacingAndGlyphs">0.96810</text>
<rect x="1597" y="330" width="2" height="1" fill="#000"/>
<text x="1601.8" y="334" font-size="9.5" fill="#000" stroke="#000" stroke-width="0.15" textLength="33.7" lengthAdjust="spacingAndGlyphs">0.96070</text>
<rect x="1597" y="363" width="2" height="1" fill="#000"/>
<text x="1601.8" y="367" font-size="9.5" fill="#000" stroke="#000" stroke-width="0.15" textLength="33.7" lengthAdjust="spacingAndGlyphs">0.95330</text>
<rect x="1597" y="396" width="2" height="1" fill="#000"/>
<text x="1601.8" y="400" font-size="9.5" fill="#000" stroke="#000" stroke-width="0.15" textLength="33.7" lengthAdjust="spacingAndGlyphs">0.94570</text>
<rect x="1597" y="429" width="2" height="1" fill="#000"/>
<text x="1601.8" y="433" font-size="9.5" fill="#000" stroke="#000" stroke-width="0.15" textLength="33.7" lengthAdjust="spacingAndGlyphs">0.93830</text>
<rect x="1597" y="462" width="2" height="1" fill="#000"/>
<text x="1601.8" y="466" font-size="9.5" fill="#000" stroke="#000" stroke-width="0.15" textLength="33.7" lengthAdjust="spacingAndGlyphs">0.93090</text>
<rect x="1597" y="495" width="2" height="1" fill="#000"/>
<text x="1601.8" y="499" font-size="9.5" fill="#000" stroke="#000" stroke-width="0.15" textLength="33.7" lengthAdjust="spacingAndGlyphs">0.92350</text>
<rect x="1597" y="528" width="2" height="1" fill="#000"/>
<text x="1601.8" y="532" font-size="9.5" fill="#000" stroke="#000" stroke-width="0.15" textLength="33.7" lengthAdjust="spacingAndGlyphs">0.91610</text>
<rect x="1598" y="96" width="41" height="11" fill="#ff0000"/>
<text x="1601.8" y="105" font-size="9.5" fill="#fff" stroke="#fff" stroke-width="0.15" textLength="33.7" lengthAdjust="spacingAndGlyphs">1.01207</text>
<rect x="1598" y="158" width="41" height="11" fill="#ff0000"/>
<text x="1601.8" y="167" font-size="9.5" fill="#fff" stroke="#fff" stroke-width="0.15" textLength="33.7" lengthAdjust="spacingAndGlyphs">0.99800</text>
<rect x="1598" y="207" width="41" height="11" fill="#ff0000"/>
<text x="1601.8" y="216" font-size="9.5" fill="#fff" stroke="#fff" stroke-width="0.15" textLength="33.7" lengthAdjust="spacingAndGlyphs">0.98703</text>
<rect x="1598" y="253" width="41" height="11" fill="#ff0000"/>
<text x="1601.8" y="262" font-size="9.5" fill="#fff" stroke="#fff" stroke-width="0.15" textLength="33.7" lengthAdjust="spacingAndGlyphs">0.97658</text>
<rect x="1598" y="291" width="41" height="11" fill="#00ff00"/>
<text x="1601.8" y="300" font-size="9.5" fill="#fff" stroke="#fff" stroke-width="0.15" textLength="33.7" lengthAdjust="spacingAndGlyphs">0.96803</text>
<rect x="1598" y="342" width="41" height="11" fill="#0000ff"/>
<text x="1601.8" y="351" font-size="9.5" fill="#fff" stroke="#fff" stroke-width="0.15" textLength="33.7" lengthAdjust="spacingAndGlyphs">0.95663</text>
<rect x="1598" y="398" width="41" height="11" fill="#0000ff"/>
<text x="1601.8" y="407" font-size="9.5" fill="#fff" stroke="#fff" stroke-width="0.15" textLength="33.7" lengthAdjust="spacingAndGlyphs">0.94404</text>
<rect x="1598" y="460" width="41" height="11" fill="#0000ff"/>
<text x="1601.8" y="469" font-size="9.5" fill="#fff" stroke="#fff" stroke-width="0.15" textLength="33.7" lengthAdjust="spacingAndGlyphs">0.93011</text>
<rect x="1598" y="280" width="41" height="11" fill="#000"/>
<text x="1601.8" y="289" font-size="9.5" fill="#fff" stroke="#fff" stroke-width="0.15" textLength="33.7" lengthAdjust="spacingAndGlyphs">0.97085</text>
<rect x="7" y="32" width="7" height="1" fill="#000"/>
<rect x="8" y="33" width="5" height="1" fill="#000"/>
<rect x="9" y="34" width="3" height="1" fill="#000"/>
<rect x="10" y="35" width="1" height="1" fill="#000"/>
<text x="18.7" y="37" font-size="9.5" fill="#000" stroke="#000" stroke-width="0.15" textLength="65.5" lengthAdjust="spacingAndGlyphs">USDCHF,Daily</text>
<text x="89.5" y="37" font-size="9.5" fill="#000" stroke="#000" stroke-width="0.15" textLength="33.6" lengthAdjust="spacingAndGlyphs">0.97065</text>
<text x="125.5" y="37" font-size="9.5" fill="#000" stroke="#000" stroke-width="0.15" textLength="33.6" lengthAdjust="spacingAndGlyphs">0.97122</text>
<text x="161.5" y="37" font-size="9.5" fill="#000" stroke="#000" stroke-width="0.15" textLength="33.6" lengthAdjust="spacingAndGlyphs">0.96845</text>
<text x="197.5" y="37" font-size="9.5" fill="#000" stroke="#000" stroke-width="0.15" textLength="33.6" lengthAdjust="spacingAndGlyphs">0.97085</text>
<line x1="5" y1="561.5" x2="1596" y2="561.5" stroke="#c0c0c0" stroke-width="1" stroke-dasharray="3 3"/>
<line x1="5" y1="597.5" x2="1596" y2="597.5" stroke="#c0c0c0" stroke-width="1" stroke-dasharray="3 3"/>
<text x="7.8" y="546" font-size="9.5" fill="#000" stroke="#000" stroke-width="0.15" textLength="32.3" lengthAdjust="spacingAndGlyphs">RSI(14)</text>
<text x="42.8" y="546" font-size="9.5" fill="#000" stroke="#000" stroke-width="0.15" textLength="33.5" lengthAdjust="spacingAndGlyphs">52.1043</text>
<text x="1599.8" y="544" font-size="9.5" fill="#000" stroke="#000" stroke-width="0.15" textLength="15.7" lengthAdjust="spacingAndGlyphs">100</text>
<text x="1599.8" y="565" font-size="9.5" fill="#000" stroke="#000" stroke-width="0.15" textLength="9.9" lengthAdjust="spacingAndGlyphs">70</text>
<text x="1599.8" y="601" font-size="9.5" fill="#000" stroke="#000" stroke-width="0.15" textLength="9.9" lengthAdjust="spacingAndGlyphs">30</text>
<text x="1599.8" y="622" font-size="9.5" fill="#000" stroke="#000" stroke-width="0.15" textLength="5.0" lengthAdjust="spacingAndGlyphs">0</text>
<rect x="1597" y="535" width="1" height="1" fill="#000"/>
<rect x="1597" y="624" width="1" height="1" fill="#000"/>
<rect x="1597" y="629" width="1" height="1" fill="#000"/>
<rect x="1597" y="718" width="1" height="1" fill="#000"/>
<path d="M63 555.5h2M48 557.5h3M51 558.5h3M54 559.5h2M59 559.5h2M56 560.5h3M71 561.5h3M68 562.5h3M74 562.5h2M83 562.5h4M76 563.5h7M87 563.5h2M1203 564.5h6M1087 565.5h7M1101 565.5h2M1200 565.5h3M1084 566.5h3M1094 566.5h2M1097 566.5h2M820 568.5h5M612 569.5h2M808 569.5h7M818 569.5h2M1212 569.5h3M96 570.5h3M107 570.5h2M391 570.5h2M508 570.5h9M751 570.5h2M800 570.5h3M806 570.5h2M815 570.5h3M1215 570.5h3M35 571.5h2M99 571.5h8M388 571.5h3M546 571.5h2M569 571.5h2M620 571.5h5M748 571.5h3M803 571.5h3M1063 571.5h12M1078 571.5h2M1218 571.5h2M23 572.5h2M32 572.5h3M540 572.5h6M563 572.5h6M579 572.5h2M625 572.5h2M655 572.5h4M662 572.5h2M746 572.5h2M797 572.5h2M1060 572.5h3M1075 572.5h3M20 573.5h3M25 573.5h2M324 573.5h3M407 573.5h2M538 573.5h2M559 573.5h4M576 573.5h3M581 573.5h2M651 573.5h4M659 573.5h3M707 573.5h2M744 573.5h2M1058 573.5h2M1252 573.5h3M1259 573.5h2M29 574.5h2M92 574.5h2M316 574.5h3M322 574.5h2M327 574.5h2M536 574.5h2M555 574.5h4M600 574.5h2M628 574.5h3M647 574.5h4M703 574.5h4M1056 574.5h2M1255 574.5h4M4 575.5h2M17 575.5h2M319 575.5h3M396 575.5h3M528 575.5h3M534 575.5h2M552 575.5h3M602 575.5h2M631 575.5h7M644 575.5h3M700 575.5h3M1026 575.5h3M1054 575.5h2M1249 575.5h2M6 576.5h2M399 576.5h4M531 576.5h3M585 576.5h2M597 576.5h2M604 576.5h3M638 576.5h2M642 576.5h2M756 576.5h5M1024 576.5h2M1052 576.5h2M1108 576.5h3M8 577.5h3M14 577.5h2M403 577.5h2M478 577.5h3M607 577.5h2M640 577.5h2M697 577.5h2M739 577.5h2M1111 577.5h6M1246 577.5h2M11 578.5h3M476 578.5h2M496 578.5h5M736 578.5h3M788 578.5h2M1117 578.5h2M1244 578.5h2M1264 578.5h5M332 579.5h3M468 579.5h2M589 579.5h2M790 579.5h2M1122 579.5h3M244 580.5h7M254 580.5h2M335 580.5h2M460 580.5h3M466 580.5h2M470 580.5h2M473 580.5h2M493 580.5h2M693 580.5h2M785 580.5h2M1120 580.5h2M1241 580.5h2M121 581.5h2M147 581.5h6M185 581.5h2M251 581.5h3M300 581.5h3M307 581.5h4M379 581.5h2M463 581.5h3M1239 581.5h2M126 582.5h2M144 582.5h3M161 582.5h2M191 582.5h2M303 582.5h4M311 582.5h2M356 582.5h5M376 582.5h3M457 582.5h2M1012 582.5h7M1183 582.5h2M1236 582.5h3M124 583.5h2M142 583.5h2M188 583.5h3M689 583.5h2M775 583.5h2M844 583.5h3M1004 583.5h3M1010 583.5h2M1019 583.5h2M1176 583.5h7M136 584.5h6M347 584.5h2M764 584.5h3M771 584.5h4M777 584.5h2M847 584.5h3M1007 584.5h3M340 585.5h7M448 585.5h3M453 585.5h2M484 585.5h5M767 585.5h4M850 585.5h2M960 585.5h7M367 586.5h4M415 586.5h2M451 586.5h2M836 586.5h3M896 586.5h3M967 586.5h3M997 586.5h2M1228 586.5h3M236 587.5h5M364 587.5h3M371 587.5h2M412 587.5h3M839 587.5h2M853 587.5h2M863 587.5h2M894 587.5h2M899 587.5h4M970 587.5h2M1187 587.5h2M1231 587.5h2M197 588.5h2M433 588.5h2M720 588.5h3M730 588.5h2M859 588.5h4M892 588.5h2M903 588.5h3M952 588.5h2M988 588.5h3M439 589.5h3M672 589.5h2M723 589.5h7M856 589.5h3M872 589.5h5M906 589.5h2M909 589.5h2M954 589.5h2M973 589.5h2M991 589.5h2M168 590.5h2M200 590.5h3M436 590.5h3M442 590.5h2M674 590.5h2M681 590.5h2M1036 590.5h3M170 591.5h2M203 591.5h2M676 591.5h5M1039 591.5h2M1129 591.5h2M172 592.5h5M885 592.5h2M916 593.5h2M918 594.5h2M1133 594.5h2M287 595.5h4M980 595.5h3M208 596.5h2M284 596.5h3M291 596.5h6M937 596.5h2M983 596.5h2M210 597.5h2M264 597.5h2M212 598.5h2M266 598.5h2M214 599.5h2M268 599.5h3M924 599.5h3M933 599.5h2M216 600.5h3M271 600.5h2M927 600.5h6M219 601.5h6M273 601.5h2M279 602.5h2M1141 602.5h2M276 603.5h3M1144 604.5h5M1149 605.5h2M1156 612.5h6M1162 613.5h2M16.5 576v1M19.5 574v1M27.5 574v1M28.5 575v1M31.5 573v1M37.5 570v1M38.5 568v2M39.5 567v1M40.5 566v1M41.5 565v1M42.5 564v1M43.5 563v1M44.5 562v1M45.5 561v1M46.5 559v2M47.5 558v1M61.5 558v1M62.5 556v2M64.5 554v1M65.5 556v2M66.5 558v2M67.5 560v2M88.5 564v1M89.5 565v3M90.5 568v3M91.5 571v3M92.5 575v1M94.5 572v2M95.5 571v1M109.5 569v1M110.5 568v1M111.5 567v1M112.5 566v1M113.5 567v2M114.5 569v2M115.5 571v2M116.5 573v1M117.5 574v2M118.5 576v2M119.5 578v2M120.5 580v1M123.5 582v1M128.5 581v1M129.5 582v2M130.5 584v2M131.5 586v2M132.5 588v1M133.5 587v1M134.5 586v1M135.5 585v1M153.5 582v1M154.5 583v1M155.5 584v1M156.5 585v1M157.5 584v1M158.5 583v1M159.5 582v1M160.5 581v1M163.5 583v1M164.5 584v1M165.5 585v2M166.5 587v1M167.5 588v2M177.5 591v1M178.5 589v2M179.5 588v1M180.5 587v1M181.5 585v2M182.5 583v2M183.5 581v2M184.5 580v1M187.5 582v1M193.5 583v1M194.5 584v2M195.5 586v1M196.5 587v1M199.5 589v1M205.5 592v1M206.5 593v2M207.5 595v1M225.5 599v2M226.5 598v1M227.5 596v2M228.5 595v1M229.5 594v1M230.5 593v1M231.5 592v1M232.5 591v1M233.5 590v1M234.5 589v1M235.5 588v1M241.5 585v2M242.5 583v2M243.5 581v2M256.5 579v1M257.5 580v2M258.5 582v1M259.5 583v2M260.5 585v2M261.5 587v3M262.5 590v3M263.5 593v3M264.5 596v1M275.5 602v1M281.5 600v2M282.5 599v1M283.5 597v2M296.5 595v1M297.5 591v4M298.5 587v4M299.5 583v4M300.5 582v1M312.5 581v1M313.5 579v2M314.5 577v2M315.5 575v2M329.5 575v1M330.5 576v2M331.5 578v1M337.5 581v1M338.5 582v2M339.5 584v1M349.5 582v2M350.5 581v1M351.5 579v2M352.5 578v1M353.5 579v1M354.5 580v1M355.5 581v1M361.5 583v1M362.5 584v2M363.5 586v1M373.5 586v1M374.5 584v2M375.5 583v1M381.5 579v2M382.5 578v1M383.5 576v2M384.5 575v1M385.5 574v1M386.5 573v1M387.5 572v1M393.5 571v1M394.5 572v2M395.5 574v1M405.5 576v1M406.5 574v2M408.5 572v1M409.5 574v4M410.5 578v4M411.5 582v4M412.5 586v1M416.5 587v1M417.5 588v2M418.5 590v2M419.5 592v2M420.5 594v1M421.5 592v2M422.5 590v2M423.5 588v2M424.5 587v1M425.5 588v1M426.5 589v2M427.5 591v1M428.5 592v1M429.5 591v1M430.5 589v2M431.5 588v1M432.5 587v1M435.5 589v1M444.5 591v1M445.5 589v2M446.5 588v1M447.5 586v2M455.5 584v1M456.5 583v1M459.5 581v1M472.5 581v1M475.5 579v1M480.5 576v1M481.5 578v2M482.5 580v2M483.5 582v2M484.5 584v1M489.5 584v1M490.5 583v1M491.5 582v1M492.5 581v1M495.5 579v1M501.5 577v1M502.5 576v1M503.5 575v1M504.5 574v1M505.5 573v1M506.5 572v1M507.5 571v1M517.5 571v1M518.5 572v1M519.5 573v1M520.5 574v1M521.5 575v2M522.5 577v2M523.5 579v2M524.5 581v1M525.5 579v2M526.5 578v1M527.5 576v2M548.5 570v1M549.5 571v1M550.5 572v2M551.5 574v1M571.5 570v1M572.5 569v1M573.5 570v1M574.5 571v1M575.5 572v1M583.5 574v1M584.5 575v1M587.5 577v1M588.5 578v1M591.5 580v1M592.5 581v1M593.5 580v1M594.5 579v1M595.5 578v1M596.5 577v1M599.5 575v1M608.5 576v1M609.5 574v2M610.5 572v2M611.5 570v2M612.5 568v1M613.5 570v1M614.5 571v2M615.5 573v2M616.5 575v1M617.5 574v1M618.5 573v1M619.5 572v1M627.5 573v1M664.5 571v1M665.5 572v1M666.5 573v2M667.5 575v1M668.5 576v2M669.5 578v3M670.5 581v4M671.5 585v3M672.5 588v1M683.5 589v1M684.5 588v1M685.5 587v1M686.5 586v1M687.5 585v1M688.5 584v1M691.5 582v1M692.5 581v1M695.5 579v1M696.5 578v1M699.5 576v1M709.5 574v1M710.5 575v1M711.5 576v1M712.5 577v1M713.5 578v2M714.5 580v1M715.5 581v2M716.5 583v1M717.5 584v1M718.5 585v2M719.5 587v1M732.5 586v2M733.5 584v2M734.5 582v2M735.5 580v2M736.5 579v1M741.5 576v1M742.5 575v1M743.5 574v1M753.5 571v2M754.5 573v1M755.5 574v2M760.5 577v1M761.5 578v2M762.5 580v2M763.5 582v2M779.5 585v1M780.5 586v1M781.5 585v1M782.5 583v2M783.5 582v1M784.5 581v1M787.5 579v1M792.5 580v1M793.5 578v2M794.5 576v2M795.5 574v2M796.5 573v1M799.5 571v1M824.5 569v1M825.5 570v4M826.5 574v3M827.5 577v4M828.5 581v3M829.5 584v2M830.5 586v2M831.5 588v2M832.5 590v1M833.5 589v1M834.5 588v1M835.5 587v1M841.5 586v1M842.5 585v1M843.5 584v1M852.5 586v1M855.5 588v1M865.5 588v2M866.5 590v1M867.5 591v2M868.5 593v1M869.5 592v1M870.5 591v1M871.5 590v1M877.5 590v2M878.5 592v1M879.5 593v2M880.5 595v1M881.5 594v1M882.5 593v1M883.5 592v1M884.5 591v1M887.5 593v1M888.5 594v1M889.5 592v2M890.5 591v1M891.5 589v2M908.5 590v1M911.5 588v1M912.5 587v1M913.5 588v2M914.5 590v1M915.5 591v2M920.5 595v1M921.5 596v1M922.5 597v1M923.5 598v1M935.5 598v1M936.5 597v1M939.5 595v1M940.5 594v1M941.5 593v1M942.5 592v1M943.5 591v1M944.5 590v1M945.5 591v1M946.5 592v2M947.5 594v1M948.5 595v1M949.5 593v2M950.5 591v2M951.5 589v2M956.5 590v1M957.5 589v1M958.5 587v2M959.5 586v1M972.5 588v1M975.5 590v1M976.5 591v1M977.5 592v1M978.5 593v1M979.5 594v1M984.5 595v1M985.5 593v2M986.5 591v2M987.5 589v2M993.5 588v1M994.5 587v1M995.5 586v1M996.5 585v1M999.5 587v1M1000.5 588v1M1001.5 587v1M1002.5 585v2M1003.5 584v1M1021.5 581v2M1022.5 579v2M1023.5 577v2M1028.5 574v1M1029.5 576v2M1030.5 578v3M1031.5 581v2M1032.5 583v2M1033.5 585v2M1034.5 587v1M1035.5 588v2M1041.5 589v2M1042.5 588v1M1043.5 586v2M1044.5 585v1M1045.5 584v1M1046.5 582v2M1047.5 581v1M1048.5 580v1M1049.5 579v1M1050.5 578v1M1051.5 577v1M1080.5 570v1M1081.5 569v1M1082.5 568v1M1083.5 567v1M1096.5 567v1M1099.5 565v1M1100.5 564v1M1103.5 566v1M1104.5 567v2M1105.5 569v2M1106.5 571v2M1107.5 573v2M1108.5 575v1M1119.5 579v1M1124.5 578v1M1125.5 580v3M1126.5 583v3M1127.5 586v3M1128.5 589v2M1131.5 592v1M1132.5 593v1M1135.5 595v1M1136.5 596v1M1137.5 597v1M1138.5 598v2M1139.5 600v1M1140.5 601v1M1143.5 603v1M1151.5 606v1M1152.5 607v1M1153.5 608v1M1154.5 609v2M1155.5 611v1M1164.5 614v1M1165.5 612v2M1166.5 611v1M1167.5 609v2M1168.5 607v2M1169.5 605v2M1170.5 603v2M1171.5 601v2M1172.5 598v3M1173.5 594v4M1174.5 590v4M1175.5 586v4M1176.5 584v2M1185.5 583v2M1186.5 585v1M1187.5 586v1M1188.5 588v1M1189.5 584v3M1190.5 580v4M1191.5 577v3M1192.5 575v2M1193.5 574v1M1194.5 573v1M1195.5 572v1M1196.5 571v1M1197.5 569v2M1198.5 568v1M1199.5 566v2M1209.5 565v1M1210.5 566v2M1211.5 568v1M1220.5 572v2M1221.5 574v2M1222.5 576v2M1223.5 578v2M1224.5 580v2M1225.5 582v1M1226.5 583v2M1227.5 585v1M1233.5 586v1M1234.5 584v2M1235.5 583v1M1243.5 579v1M1248.5 576v1M1251.5 574v1M1261.5 574v1M1262.5 575v2M1263.5 577v1" fill="none" stroke="#1e90ff" stroke-width="1" clip-path="url(#cr)"/>
<text x="1599.8" y="638" font-size="9.5" fill="#000" stroke="#000" stroke-width="0.15" textLength="38.4" lengthAdjust="spacingAndGlyphs">0.006167</text>
<text x="1599.8" y="664" font-size="9.5" fill="#000" stroke="#000" stroke-width="0.15" textLength="18.5" lengthAdjust="spacingAndGlyphs">0.00</text>
<text x="1599.8" y="716" font-size="9.5" fill="#000" stroke="#000" stroke-width="0.15" textLength="43.2" lengthAdjust="spacingAndGlyphs">-0.011531</text>
<rect x="1597" y="660" width="2" height="1" fill="#000"/>
<g clip-path="url(#cd)">
<rect x="4" y="660" width="1" height="1" fill="#c0c0c0"/>
<rect x="8" y="660" width="1" height="1" fill="#c0c0c0"/>
<rect x="12" y="660" width="1" height="1" fill="#c0c0c0"/>
<rect x="16" y="660" width="1" height="1" fill="#c0c0c0"/>
<rect x="20" y="659" width="1" height="2" fill="#c0c0c0"/>
<rect x="24" y="658" width="1" height="3" fill="#c0c0c0"/>
<rect x="28" y="658" width="1" height="3" fill="#c0c0c0"/>
<rect x="32" y="658" width="1" height="3" fill="#c0c0c0"/>
<rect x="36" y="657" width="1" height="4" fill="#c0c0c0"/>
<rect x="40" y="655" width="1" height="6" fill="#c0c0c0"/>
<rect x="44" y="652" width="1" height="9" fill="#c0c0c0"/>
<rect x="48" y="648" width="1" height="13" fill="#c0c0c0"/>
<rect x="52" y="645" width="1" height="16" fill="#c0c0c0"/>
<rect x="56" y="643" width="1" height="18" fill="#c0c0c0"/>
<rect x="60" y="641" width="1" height="20" fill="#c0c0c0"/>
<rect x="64" y="638" width="1" height="23" fill="#c0c0c0"/>
<rect x="68" y="636" width="1" height="25" fill="#c0c0c0"/>
<rect x="72" y="635" width="1" height="26" fill="#c0c0c0"/>
<rect x="76" y="635" width="1" height="26" fill="#c0c0c0"/>
<rect x="80" y="635" width="1" height="26" fill="#c0c0c0"/>
<rect x="84" y="635" width="1" height="26" fill="#c0c0c0"/>
<rect x="88" y="635" width="1" height="26" fill="#c0c0c0"/>
<rect x="92" y="638" width="1" height="23" fill="#c0c0c0"/>
<rect x="96" y="639" width="1" height="22" fill="#c0c0c0"/>
<rect x="100" y="640" width="1" height="21" fill="#c0c0c0"/>
<rect x="104" y="641" width="1" height="20" fill="#c0c0c0"/>
<rect x="108" y="642" width="1" height="19" fill="#c0c0c0"/>
<rect x="112" y="641" width="1" height="20" fill="#c0c0c0"/>
<rect x="116" y="642" width="1" height="19" fill="#c0c0c0"/>
<rect x="120" y="646" width="1" height="15" fill="#c0c0c0"/>
<rect x="124" y="649" width="1" height="12" fill="#c0c0c0"/>
<rect x="128" y="651" width="1" height="10" fill="#c0c0c0"/>
<rect x="132" y="656" width="1" height="5" fill="#c0c0c0"/>
<rect x="136" y="658" width="1" height="3" fill="#c0c0c0"/>
<rect x="140" y="660" width="1" height="1" fill="#c0c0c0"/>
<rect x="144" y="660" width="1" height="2" fill="#c0c0c0"/>
<rect x="148" y="660" width="1" height="2" fill="#c0c0c0"/>
<rect x="152" y="660" width="1" height="2" fill="#c0c0c0"/>
<rect x="156" y="660" width="1" height="4" fill="#c0c0c0"/>
<rect x="160" y="660" width="1" height="4" fill="#c0c0c0"/>
<rect x="164" y="660" width="1" height="5" fill="#c0c0c0"/>
<rect x="168" y="660" width="1" height="7" fill="#c0c0c0"/>
<rect x="172" y="660" width="1" height="10" fill="#c0c0c0"/>
<rect x="176" y="660" width="1" height="12" fill="#c0c0c0"/>
<rect x="180" y="660" width="1" height="13" fill="#c0c0c0"/>
<rect x="184" y="660" width="1" height="11" fill="#c0c0c0"/>
<rect x="188" y="660" width="1" height="11" fill="#c0c0c0"/>
<rect x="192" y="660" width="1" height="10" fill="#c0c0c0"/>
<rect x="196" y="660" width="1" height="11" fill="#c0c0c0"/>
<rect x="200" y="660" width="1" height="12" fill="#c0c0c0"/>
<rect x="204" y="660" width="1" height="14" fill="#c0c0c0"/>
<rect x="208" y="660" width="1" height="17" fill="#c0c0c0"/>
<rect x="212" y="660" width="1" height="21" fill="#c0c0c0"/>
<rect x="216" y="660" width="1" height="24" fill="#c0c0c0"/>
<rect x="220" y="660" width="1" height="27" fill="#c0c0c0"/>
<rect x="224" y="660" width="1" height="30" fill="#c0c0c0"/>
<rect x="228" y="660" width="1" height="30" fill="#c0c0c0"/>
<rect x="232" y="660" width="1" height="29" fill="#c0c0c0"/>
<rect x="236" y="660" width="1" height="26" fill="#c0c0c0"/>
<rect x="240" y="660" width="1" height="25" fill="#c0c0c0"/>
<rect x="244" y="660" width="1" height="21" fill="#c0c0c0"/>
<rect x="248" y="660" width="1" height="18" fill="#c0c0c0"/>
<rect x="252" y="660" width="1" height="16" fill="#c0c0c0"/>
<rect x="256" y="660" width="1" height="13" fill="#c0c0c0"/>
<rect x="260" y="660" width="1" height="13" fill="#c0c0c0"/>
<rect x="264" y="660" width="1" height="18" fill="#c0c0c0"/>
<rect x="268" y="660" width="1" height="23" fill="#c0c0c0"/>
<rect x="272" y="660" width="1" height="27" fill="#c0c0c0"/>
<rect x="276" y="660" width="1" height="32" fill="#c0c0c0"/>
<rect x="280" y="660" width="1" height="35" fill="#c0c0c0"/>
<rect x="284" y="660" width="1" height="36" fill="#c0c0c0"/>
<rect x="288" y="660" width="1" height="36" fill="#c0c0c0"/>
<rect x="292" y="660" width="1" height="36" fill="#c0c0c0"/>
<rect x="296" y="660" width="1" height="36" fill="#c0c0c0"/>
<rect x="300" y="660" width="1" height="31" fill="#c0c0c0"/>
<rect x="304" y="660" width="1" height="27" fill="#c0c0c0"/>
<rect x="308" y="660" width="1" height="24" fill="#c0c0c0"/>
<rect x="312" y="660" width="1" height="21" fill="#c0c0c0"/>
<rect x="316" y="660" width="1" height="16" fill="#c0c0c0"/>
<rect x="320" y="660" width="1" height="12" fill="#c0c0c0"/>
<rect x="324" y="660" width="1" height="8" fill="#c0c0c0"/>
<rect x="328" y="660" width="1" height="5" fill="#c0c0c0"/>
<rect x="332" y="660" width="1" height="4" fill="#c0c0c0"/>
<rect x="336" y="660" width="1" height="4" fill="#c0c0c0"/>
<rect x="340" y="660" width="1" height="5" fill="#c0c0c0"/>
<rect x="344" y="660" width="1" height="6" fill="#c0c0c0"/>
<rect x="348" y="660" width="1" height="6" fill="#c0c0c0"/>
<rect x="352" y="660" width="1" height="5" fill="#c0c0c0"/>
<rect x="356" y="660" width="1" height="5" fill="#c0c0c0"/>
<rect x="360" y="660" width="1" height="5" fill="#c0c0c0"/>
<rect x="364" y="660" width="1" height="7" fill="#c0c0c0"/>
<rect x="368" y="660" width="1" height="7" fill="#c0c0c0"/>
<rect x="372" y="660" width="1" height="9" fill="#c0c0c0"/>
<rect x="376" y="660" width="1" height="8" fill="#c0c0c0"/>
<rect x="380" y="660" width="1" height="7" fill="#c0c0c0"/>
<rect x="384" y="660" width="1" height="5" fill="#c0c0c0"/>
<rect x="388" y="660" width="1" height="2" fill="#c0c0c0"/>
<rect x="392" y="658" width="1" height="3" fill="#c0c0c0"/>
<rect x="396" y="656" width="1" height="5" fill="#c0c0c0"/>
<rect x="400" y="656" width="1" height="5" fill="#c0c0c0"/>
<rect x="404" y="656" width="1" height="5" fill="#c0c0c0"/>
<rect x="408" y="654" width="1" height="7" fill="#c0c0c0"/>
<rect x="412" y="658" width="1" height="3" fill="#c0c0c0"/>
<rect x="416" y="660" width="1" height="1" fill="#c0c0c0"/>
<rect x="420" y="660" width="1" height="8" fill="#c0c0c0"/>
<rect x="424" y="660" width="1" height="10" fill="#c0c0c0"/>
<rect x="428" y="660" width="1" height="14" fill="#c0c0c0"/>
<rect x="432" y="660" width="1" height="16" fill="#c0c0c0"/>
<rect x="436" y="660" width="1" height="19" fill="#c0c0c0"/>
<rect x="440" y="660" width="1" height="21" fill="#c0c0c0"/>
<rect x="444" y="660" width="1" height="23" fill="#c0c0c0"/>
<rect x="448" y="660" width="1" height="22" fill="#c0c0c0"/>
<rect x="452" y="660" width="1" height="22" fill="#c0c0c0"/>
<rect x="456" y="660" width="1" height="20" fill="#c0c0c0"/>
<rect x="460" y="660" width="1" height="17" fill="#c0c0c0"/>
<rect x="464" y="660" width="1" height="15" fill="#c0c0c0"/>
<rect x="468" y="660" width="1" height="13" fill="#c0c0c0"/>
<rect x="472" y="660" width="1" height="11" fill="#c0c0c0"/>
<rect x="476" y="660" width="1" height="9" fill="#c0c0c0"/>
<rect x="480" y="660" width="1" height="6" fill="#c0c0c0"/>
<rect x="484" y="660" width="1" height="8" fill="#c0c0c0"/>
<rect x="488" y="660" width="1" height="9" fill="#c0c0c0"/>
<rect x="492" y="660" width="1" height="8" fill="#c0c0c0"/>
<rect x="496" y="660" width="1" height="6" fill="#c0c0c0"/>
<rect x="500" y="660" width="1" height="5" fill="#c0c0c0"/>
<rect x="504" y="660" width="1" height="2" fill="#c0c0c0"/>
<rect x="508" y="657" width="1" height="4" fill="#c0c0c0"/>
<rect x="512" y="653" width="1" height="8" fill="#c0c0c0"/>
<rect x="516" y="651" width="1" height="10" fill="#c0c0c0"/>
<rect x="520" y="650" width="1" height="11" fill="#c0c0c0"/>
<rect x="524" y="652" width="1" height="9" fill="#c0c0c0"/>
<rect x="528" y="652" width="1" height="9" fill="#c0c0c0"/>
<rect x="532" y="652" width="1" height="9" fill="#c0c0c0"/>
<rect x="536" y="651" width="1" height="10" fill="#c0c0c0"/>
<rect x="540" y="649" width="1" height="12" fill="#c0c0c0"/>
<rect x="544" y="648" width="1" height="13" fill="#c0c0c0"/>
<rect x="548" y="647" width="1" height="14" fill="#c0c0c0"/>
<rect x="552" y="647" width="1" height="14" fill="#c0c0c0"/>
<rect x="556" y="647" width="1" height="14" fill="#c0c0c0"/>
<rect x="560" y="647" width="1" height="14" fill="#c0c0c0"/>
<rect x="564" y="647" width="1" height="14" fill="#c0c0c0"/>
<rect x="568" y="646" width="1" height="15" fill="#c0c0c0"/>
<rect x="572" y="645" width="1" height="16" fill="#c0c0c0"/>
<rect x="576" y="646" width="1" height="15" fill="#c0c0c0"/>
<rect x="580" y="646" width="1" height="15" fill="#c0c0c0"/>
<rect x="584" y="647" width="1" height="14" fill="#c0c0c0"/>
<rect x="588" y="649" width="1" height="12" fill="#c0c0c0"/>
<rect x="592" y="651" width="1" height="10" fill="#c0c0c0"/>
<rect x="596" y="651" width="1" height="10" fill="#c0c0c0"/>
<rect x="600" y="651" width="1" height="10" fill="#c0c0c0"/>
<rect x="604" y="652" width="1" height="9" fill="#c0c0c0"/>
<rect x="608" y="652" width="1" height="9" fill="#c0c0c0"/>
<rect x="612" y="650" width="1" height="11" fill="#c0c0c0"/>
<rect x="616" y="650" width="1" height="11" fill="#c0c0c0"/>
<rect x="620" y="649" width="1" height="12" fill="#c0c0c0"/>
<rect x="624" y="648" width="1" height="13" fill="#c0c0c0"/>
<rect x="628" y="648" width="1" height="13" fill="#c0c0c0"/>
<rect x="632" y="649" width="1" height="12" fill="#c0c0c0"/>
<rect x="636" y="649" width="1" height="12" fill="#c0c0c0"/>
<rect x="640" y="650" width="1" height="11" fill="#c0c0c0"/>
<rect x="644" y="650" width="1" height="11" fill="#c0c0c0"/>
<rect x="648" y="651" width="1" height="10" fill="#c0c0c0"/>
<rect x="652" y="650" width="1" height="11" fill="#c0c0c0"/>
<rect x="656" y="650" width="1" height="11" fill="#c0c0c0"/>
<rect x="660" y="650" width="1" height="11" fill="#c0c0c0"/>
<rect x="664" y="650" width="1" height="11" fill="#c0c0c0"/>
<rect x="668" y="651" width="1" height="10" fill="#c0c0c0"/>
<rect x="672" y="655" width="1" height="6" fill="#c0c0c0"/>
<rect x="676" y="659" width="1" height="2" fill="#c0c0c0"/>
<rect x="680" y="660" width="1" height="3" fill="#c0c0c0"/>
<rect x="684" y="660" width="1" height="5" fill="#c0c0c0"/>
<rect x="688" y="660" width="1" height="6" fill="#c0c0c0"/>
<rect x="692" y="660" width="1" height="5" fill="#c0c0c0"/>
<rect x="696" y="660" width="1" height="4" fill="#c0c0c0"/>
<rect x="700" y="660" width="1" height="3" fill="#c0c0c0"/>
<rect x="704" y="660" width="1" height="1" fill="#c0c0c0"/>
<rect x="708" y="658" width="1" height="3" fill="#c0c0c0"/>
<rect x="712" y="658" width="1" height="3" fill="#c0c0c0"/>
<rect x="716" y="659" width="1" height="2" fill="#c0c0c0"/>
<rect x="720" y="660" width="1" height="3" fill="#c0c0c0"/>
<rect x="724" y="660" width="1" height="5" fill="#c0c0c0"/>
<rect x="728" y="660" width="1" height="7" fill="#c0c0c0"/>
<rect x="732" y="660" width="1" height="8" fill="#c0c0c0"/>
<rect x="736" y="660" width="1" height="6" fill="#c0c0c0"/>
<rect x="740" y="660" width="1" height="5" fill="#c0c0c0"/>
<rect x="744" y="660" width="1" height="3" fill="#c0c0c0"/>
<rect x="748" y="659" width="1" height="2" fill="#c0c0c0"/>
<rect x="752" y="657" width="1" height="4" fill="#c0c0c0"/>
<rect x="756" y="657" width="1" height="4" fill="#c0c0c0"/>
<rect x="760" y="656" width="1" height="5" fill="#c0c0c0"/>
<rect x="764" y="658" width="1" height="3" fill="#c0c0c0"/>
<rect x="768" y="660" width="1" height="1" fill="#c0c0c0"/>
<rect x="772" y="660" width="1" height="2" fill="#c0c0c0"/>
<rect x="776" y="660" width="1" height="3" fill="#c0c0c0"/>
<rect x="780" y="660" width="1" height="4" fill="#c0c0c0"/>
<rect x="784" y="660" width="1" height="4" fill="#c0c0c0"/>
<rect x="788" y="660" width="1" height="3" fill="#c0c0c0"/>
<rect x="792" y="660" width="1" height="3" fill="#c0c0c0"/>
<rect x="796" y="660" width="1" height="1" fill="#c0c0c0"/>
<rect x="800" y="657" width="1" height="4" fill="#c0c0c0"/>
<rect x="804" y="656" width="1" height="5" fill="#c0c0c0"/>
<rect x="808" y="654" width="1" height="7" fill="#c0c0c0"/>
<rect x="812" y="652" width="1" height="9" fill="#c0c0c0"/>
<rect x="816" y="652" width="1" height="9" fill="#c0c0c0"/>
<rect x="820" y="651" width="1" height="10" fill="#c0c0c0"/>
<rect x="824" y="650" width="1" height="11" fill="#c0c0c0"/>
<rect x="828" y="652" width="1" height="9" fill="#c0c0c0"/>
<rect x="832" y="656" width="1" height="5" fill="#c0c0c0"/>
<rect x="836" y="659" width="1" height="2" fill="#c0c0c0"/>
<rect x="840" y="660" width="1" height="2" fill="#c0c0c0"/>
<rect x="844" y="660" width="1" height="3" fill="#c0c0c0"/>
<rect x="848" y="660" width="1" height="4" fill="#c0c0c0"/>
<rect x="852" y="660" width="1" height="5" fill="#c0c0c0"/>
<rect x="856" y="660" width="1" height="7" fill="#c0c0c0"/>
<rect x="860" y="660" width="1" height="8" fill="#c0c0c0"/>
<rect x="864" y="660" width="1" height="9" fill="#c0c0c0"/>
<rect x="868" y="660" width="1" height="11" fill="#c0c0c0"/>
<rect x="872" y="660" width="1" height="12" fill="#c0c0c0"/>
<rect x="876" y="660" width="1" height="12" fill="#c0c0c0"/>
<rect x="880" y="660" width="1" height="15" fill="#c0c0c0"/>
<rect x="884" y="660" width="1" height="16" fill="#c0c0c0"/>
<rect x="888" y="660" width="1" height="17" fill="#c0c0c0"/>
<rect x="892" y="660" width="1" height="17" fill="#c0c0c0"/>
<rect x="896" y="660" width="1" height="16" fill="#c0c0c0"/>
<rect x="900" y="660" width="1" height="16" fill="#c0c0c0"/>
<rect x="904" y="660" width="1" height="16" fill="#c0c0c0"/>
<rect x="908" y="660" width="1" height="16" fill="#c0c0c0"/>
<rect x="912" y="660" width="1" height="15" fill="#c0c0c0"/>
<rect x="916" y="660" width="1" height="17" fill="#c0c0c0"/>
<rect x="920" y="660" width="1" height="19" fill="#c0c0c0"/>
<rect x="924" y="660" width="1" height="22" fill="#c0c0c0"/>
<rect x="928" y="660" width="1" height="25" fill="#c0c0c0"/>
<rect x="932" y="660" width="1" height="26" fill="#c0c0c0"/>
<rect x="936" y="660" width="1" height="27" fill="#c0c0c0"/>
<rect x="940" y="660" width="1" height="27" fill="#c0c0c0"/>
<rect x="944" y="660" width="1" height="25" fill="#c0c0c0"/>
<rect x="948" y="660" width="1" height="26" fill="#c0c0c0"/>
<rect x="952" y="660" width="1" height="24" fill="#c0c0c0"/>
<rect x="956" y="660" width="1" height="23" fill="#c0c0c0"/>
<rect x="960" y="660" width="1" height="22" fill="#c0c0c0"/>
<rect x="964" y="660" width="1" height="20" fill="#c0c0c0"/>
<rect x="968" y="660" width="1" height="18" fill="#c0c0c0"/>
<rect x="972" y="660" width="1" height="18" fill="#c0c0c0"/>
<rect x="976" y="660" width="1" height="18" fill="#c0c0c0"/>
<rect x="980" y="660" width="1" height="19" fill="#c0c0c0"/>
<rect x="984" y="660" width="1" height="21" fill="#c0c0c0"/>
<rect x="988" y="660" width="1" height="20" fill="#c0c0c0"/>
<rect x="992" y="660" width="1" height="19" fill="#c0c0c0"/>
<rect x="996" y="660" width="1" height="18" fill="#c0c0c0"/>
<rect x="1000" y="660" width="1" height="17" fill="#c0c0c0"/>
<rect x="1004" y="660" width="1" height="16" fill="#c0c0c0"/>
<rect x="1008" y="660" width="1" height="14" fill="#c0c0c0"/>
<rect x="1012" y="660" width="1" height="13" fill="#c0c0c0"/>
<rect x="1016" y="660" width="1" height="12" fill="#c0c0c0"/>
<rect x="1020" y="660" width="1" height="11" fill="#c0c0c0"/>
<rect x="1024" y="660" width="1" height="8" fill="#c0c0c0"/>
<rect x="1028" y="660" width="1" height="6" fill="#c0c0c0"/>
<rect x="1032" y="660" width="1" height="6" fill="#c0c0c0"/>
<rect x="1036" y="660" width="1" height="8" fill="#c0c0c0"/>
<rect x="1040" y="660" width="1" height="10" fill="#c0c0c0"/>
<rect x="1044" y="660" width="1" height="11" fill="#c0c0c0"/>
<rect x="1048" y="660" width="1" height="9" fill="#c0c0c0"/>
<rect x="1052" y="660" width="1" height="7" fill="#c0c0c0"/>
<rect x="1056" y="660" width="1" height="4" fill="#c0c0c0"/>
<rect x="1060" y="660" width="1" height="1" fill="#c0c0c0"/>
<rect x="1064" y="658" width="1" height="3" fill="#c0c0c0"/>
<rect x="1068" y="656" width="1" height="5" fill="#c0c0c0"/>
<rect x="1072" y="655" width="1" height="6" fill="#c0c0c0"/>
<rect x="1076" y="654" width="1" height="7" fill="#c0c0c0"/>
<rect x="1080" y="652" width="1" height="9" fill="#c0c0c0"/>
<rect x="1084" y="650" width="1" height="11" fill="#c0c0c0"/>
<rect x="1088" y="649" width="1" height="12" fill="#c0c0c0"/>
<rect x="1092" y="647" width="1" height="14" fill="#c0c0c0"/>
<rect x="1096" y="647" width="1" height="14" fill="#c0c0c0"/>
<rect x="1100" y="646" width="1" height="15" fill="#c0c0c0"/>
<rect x="1104" y="645" width="1" height="16" fill="#c0c0c0"/>
<rect x="1108" y="647" width="1" height="14" fill="#c0c0c0"/>
<rect x="1112" y="648" width="1" height="13" fill="#c0c0c0"/>
<rect x="1116" y="650" width="1" height="11" fill="#c0c0c0"/>
<rect x="1120" y="651" width="1" height="10" fill="#c0c0c0"/>
<rect x="1124" y="652" width="1" height="9" fill="#c0c0c0"/>
<rect x="1128" y="656" width="1" height="5" fill="#c0c0c0"/>
<rect x="1132" y="660" width="1" height="1" fill="#c0c0c0"/>
<rect x="1136" y="660" width="1" height="5" fill="#c0c0c0"/>
<rect x="1140" y="660" width="1" height="11" fill="#c0c0c0"/>
<rect x="1144" y="660" width="1" height="16" fill="#c0c0c0"/>
<rect x="1148" y="660" width="1" height="21" fill="#c0c0c0"/>
<rect x="1152" y="660" width="1" height="26" fill="#c0c0c0"/>
<rect x="1156" y="660" width="1" height="35" fill="#c0c0c0"/>
<rect x="1160" y="660" width="1" height="42" fill="#c0c0c0"/>
<rect x="1164" y="660" width="1" height="50" fill="#c0c0c0"/>
<rect x="1168" y="660" width="1" height="54" fill="#c0c0c0"/>
<rect x="1172" y="660" width="1" height="54" fill="#c0c0c0"/>
<rect x="1176" y="660" width="1" height="48" fill="#c0c0c0"/>
<rect x="1180" y="660" width="1" height="42" fill="#c0c0c0"/>
<rect x="1184" y="660" width="1" height="37" fill="#c0c0c0"/>
<rect x="1188" y="660" width="1" height="36" fill="#c0c0c0"/>
<rect x="1192" y="660" width="1" height="27" fill="#c0c0c0"/>
<rect x="1196" y="660" width="1" height="17" fill="#c0c0c0"/>
<rect x="1200" y="660" width="1" height="4" fill="#c0c0c0"/>
<rect x="1204" y="652" width="1" height="9" fill="#c0c0c0"/>
<rect x="1208" y="643" width="1" height="18" fill="#c0c0c0"/>
<rect x="1212" y="638" width="1" height="23" fill="#c0c0c0"/>
<rect x="1216" y="635" width="1" height="26" fill="#c0c0c0"/>
<rect x="1220" y="635" width="1" height="26" fill="#c0c0c0"/>
<rect x="1224" y="640" width="1" height="21" fill="#c0c0c0"/>
<rect x="1228" y="648" width="1" height="13" fill="#c0c0c0"/>
<rect x="1232" y="655" width="1" height="6" fill="#c0c0c0"/>
<rect x="1236" y="658" width="1" height="3" fill="#c0c0c0"/>
<rect x="1240" y="659" width="1" height="2" fill="#c0c0c0"/>
<rect x="1244" y="658" width="1" height="3" fill="#c0c0c0"/>
<rect x="1248" y="656" width="1" height="5" fill="#c0c0c0"/>
<rect x="1252" y="652" width="1" height="9" fill="#c0c0c0"/>
<rect x="1256" y="649" width="1" height="12" fill="#c0c0c0"/>
<rect x="1260" y="647" width="1" height="14" fill="#c0c0c0"/>
<rect x="1264" y="648" width="1" height="13" fill="#c0c0c0"/>
<rect x="1268" y="649" width="1" height="12" fill="#c0c0c0"/>
</g>
<path d="M94 636.5h3M100 636.5h3M88 637.5h3M107 638.5h2M112 638.5h3M82 639.5h2M119 640.5h2M76 642.5h2M124 642.5h3M130 644.5h2M70 645.5h2M1237 645.5h2M580 646.5h3M1232 646.5h2M136 647.5h2M574 647.5h3M587 647.5h2M592 647.5h3M1243 647.5h3M65 648.5h2M563 648.5h2M568 648.5h3M599 648.5h2M1114 648.5h3M1120 648.5h3M556 649.5h3M604 649.5h3M640 649.5h3M646 649.5h3M652 649.5h3M1108 649.5h3M1127 649.5h2M142 650.5h2M550 650.5h3M611 650.5h2M616 650.5h3M623 650.5h2M628 650.5h3M634 650.5h3M659 650.5h2M664 650.5h3M1102 650.5h2M1250 650.5h2M544 651.5h3M671 651.5h2M1132 651.5h2M58 652.5h2M539 652.5h2M676 652.5h3M1096 652.5h3M832 653.5h3M1256 653.5h2M1267 653.5h2M52 654.5h3M148 654.5h2M682 654.5h2M827 654.5h2M839 654.5h2M1090 654.5h2M1138 654.5h2M1261 654.5h3M532 655.5h2M844 655.5h3M688 656.5h2M820 656.5h3M46 657.5h2M154 657.5h2M526 657.5h2M851 657.5h2M1084 657.5h2M40 658.5h3M418 658.5h3M815 658.5h2M35 659.5h2M160 659.5h2M412 659.5h3M424 659.5h2M695 659.5h2M772 659.5h3M778 659.5h3M856 659.5h2M407 660.5h2M520 660.5h2M700 660.5h2M766 660.5h3M784 660.5h3M808 660.5h3M1078 660.5h2M1145 660.5h2M28 661.5h3M719 661.5h2M724 661.5h3M760 661.5h3M791 661.5h2M796 661.5h3M802 661.5h3M23 662.5h2M167 662.5h2M430 662.5h2M515 662.5h2M706 662.5h3M712 662.5h3M731 662.5h2M736 662.5h3M755 662.5h2M862 662.5h2M172 663.5h3M400 663.5h2M742 663.5h3M748 663.5h3M1072 663.5h2M16 664.5h3M358 664.5h3M364 664.5h3M394 664.5h3M868 664.5h2M1067 664.5h2M178 665.5h2M352 665.5h3M370 665.5h3M376 665.5h3M383 665.5h2M388 665.5h3M508 665.5h2M10 666.5h2M436 666.5h2M1060 666.5h3M184 667.5h3M346 667.5h2M502 667.5h2M875 667.5h2M1055 667.5h2M4 668.5h3M191 668.5h2M880 668.5h3M1043 668.5h2M1048 668.5h3M196 669.5h3M496 669.5h3M1036 669.5h3M202 670.5h3M340 670.5h2M491 670.5h2M886 670.5h2M208 671.5h3M1030 671.5h2M892 672.5h3M214 673.5h2M484 673.5h2M1024 673.5h3M448 674.5h2M899 674.5h2M904 674.5h3M220 675.5h2M478 675.5h2M910 675.5h3M916 675.5h3M1018 675.5h2M922 676.5h3M1012 676.5h3M454 677.5h2M472 677.5h3M928 677.5h3M1006 677.5h3M268 678.5h3M460 678.5h3M466 678.5h3M994 678.5h3M1000 678.5h3M263 679.5h2M275 679.5h2M935 679.5h2M983 679.5h2M988 679.5h3M280 681.5h2M940 681.5h3M976 681.5h3M232 682.5h3M256 682.5h2M970 682.5h2M947 683.5h2M964 683.5h3M239 684.5h2M250 684.5h3M286 684.5h2M952 684.5h3M958 684.5h3M244 685.5h3M293 688.5h2M316 688.5h2M298 691.5h2M310 691.5h2M304 692.5h3M1180 700.5h2M1185 702.5h2M1191 702.5h3M12.5 665v1M22.5 663v1M34.5 660v1M48.5 656v1M60.5 651v1M64.5 649v1M72.5 644v1M78.5 641v1M84.5 638v1M106.5 637v1M118.5 639v1M132.5 645v1M138.5 648v1M144.5 651v1M150.5 655v1M156.5 658v1M162.5 660v1M166.5 661v1M180.5 666v1M190.5 667v1M216.5 674v1M222.5 676v1M226.5 678v1M227.5 679v1M228.5 680v1M238.5 683v1M258.5 681v1M262.5 680v1M274.5 678v1M282.5 682v1M288.5 685v1M292.5 687v1M300.5 692v1M312.5 690v1M318.5 687v1M322.5 684v1M323.5 683v1M324.5 682v1M328.5 679v1M329.5 678v1M330.5 677v1M334.5 674v1M335.5 673v1M336.5 672v1M342.5 669v1M348.5 666v1M382.5 666v1M402.5 662v1M406.5 661v1M426.5 660v1M432.5 663v1M438.5 667v1M442.5 669v1M443.5 670v1M444.5 671v1M450.5 675v1M456.5 678v1M480.5 674v1M486.5 672v1M490.5 671v1M504.5 666v1M510.5 664v1M514.5 663v1M522.5 659v1M528.5 656v1M534.5 654v1M538.5 653v1M562.5 649v1M586.5 646v1M598.5 647v1M610.5 649v1M622.5 651v1M658.5 649v1M670.5 650v1M684.5 655v1M690.5 657v1M694.5 658v1M702.5 661v1M718.5 662v1M730.5 661v1M754.5 663v1M790.5 660v1M814.5 659v1M826.5 655v1M838.5 653v1M850.5 656v1M858.5 660v1M864.5 663v1M870.5 665v1M874.5 666v1M888.5 671v1M898.5 673v1M934.5 678v1M946.5 682v1M972.5 681v1M982.5 680v1M1020.5 674v1M1032.5 670v1M1042.5 669v1M1054.5 668v1M1066.5 665v1M1074.5 662v1M1080.5 659v1M1086.5 656v1M1092.5 653v1M1104.5 649v1M1126.5 648v1M1134.5 652v1M1140.5 655v1M1144.5 659v1M1150.5 664v1M1151.5 665v1M1152.5 666v1M1155.5 670v1M1156.5 671v1M1157.5 672v1M1160.5 676v1M1161.5 677v2M1164.5 682v1M1165.5 683v2M1168.5 688v1M1169.5 689v1M1170.5 690v1M1173.5 694v1M1174.5 695v1M1175.5 696v1M1179.5 699v1M1187.5 703v1M1197.5 699v1M1198.5 697v2M1201.5 693v1M1202.5 691v2M1204.5 687v1M1205.5 685v2M1207.5 681v1M1208.5 679v2M1210.5 675v1M1211.5 673v2M1214.5 668v2M1215.5 667v1M1217.5 663v1M1218.5 661v2M1221.5 656v2M1222.5 655v1M1225.5 651v1M1226.5 650v1M1227.5 649v1M1231.5 647v1M1239.5 646v1M1249.5 649v1M1255.5 652v1" fill="none" stroke="#ff0000" stroke-width="1" clip-path="url(#cd)"/>
<text x="7.55" y="640" font-size="9.5" fill="#000" stroke="#000" stroke-width="0.15" textLength="66.05" lengthAdjust="spacingAndGlyphs">MACD(12,26,9)</text>
<text x="76.3" y="640" font-size="9.5" fill="#000" stroke="#000" stroke-width="0.15" textLength="38.7" lengthAdjust="spacingAndGlyphs">0.002236</text>
<text x="117.8" y="640" font-size="9.5" fill="#000" stroke="#000" stroke-width="0.15" textLength="38.1" lengthAdjust="spacingAndGlyphs">0.001435</text>
<rect x="4" y="720" width="1" height="3" fill="#000"/>
<text x="2.9" y="732" font-size="9.5" fill="#000" stroke="#000" stroke-width="0.15" textLength="46.5" lengthAdjust="spacingAndGlyphs">5 Apr 2019</text>
<rect x="68" y="720" width="1" height="3" fill="#000"/>
<text x="66.9" y="732" font-size="9.5" fill="#000" stroke="#000" stroke-width="0.15" textLength="51.6" lengthAdjust="spacingAndGlyphs">24 Apr 2019</text>
<rect x="132" y="720" width="1" height="3" fill="#000"/>
<text x="131.2" y="732" font-size="9.5" fill="#000" stroke="#000" stroke-width="0.15" textLength="55.3" lengthAdjust="spacingAndGlyphs">13 May 2019</text>
<rect x="196" y="720" width="1" height="3" fill="#000"/>
<text x="195.0" y="732" font-size="9.5" fill="#000" stroke="#000" stroke-width="0.15" textLength="55.5" lengthAdjust="spacingAndGlyphs">31 May 2019</text>
<rect x="260" y="720" width="1" height="3" fill="#000"/>
<text x="259.5" y="732" font-size="9.5" fill="#000" stroke="#000" stroke-width="0.15" textLength="49.7" lengthAdjust="spacingAndGlyphs">19 Jun 2019</text>
<rect x="324" y="720" width="1" height="3" fill="#000"/>
<text x="322.6" y="732" font-size="9.5" fill="#000" stroke="#000" stroke-width="0.15" textLength="42.6" lengthAdjust="spacingAndGlyphs">8 Jul 2019</text>
<rect x="388" y="720" width="1" height="3" fill="#000"/>
<text x="386.5" y="732" font-size="9.5" fill="#000" stroke="#000" stroke-width="0.15" textLength="47.7" lengthAdjust="spacingAndGlyphs">26 Jul 2019</text>
<rect x="452" y="720" width="1" height="3" fill="#000"/>
<text x="450.9" y="732" font-size="9.5" fill="#000" stroke="#000" stroke-width="0.15" textLength="53.0" lengthAdjust="spacingAndGlyphs">14 Aug 2019</text>
<rect x="516" y="720" width="1" height="3" fill="#000"/>
<text x="514.6" y="732" font-size="9.5" fill="#000" stroke="#000" stroke-width="0.15" textLength="47.3" lengthAdjust="spacingAndGlyphs">2 Sep 2019</text>
<rect x="580" y="720" width="1" height="3" fill="#000"/>
<text x="579.0" y="732" font-size="9.5" fill="#000" stroke="#000" stroke-width="0.15" textLength="51.6" lengthAdjust="spacingAndGlyphs">20 Sep 2019</text>
<rect x="644" y="720" width="1" height="3" fill="#000"/>
<text x="642.6" y="732" font-size="9.5" fill="#000" stroke="#000" stroke-width="0.15" textLength="46.2" lengthAdjust="spacingAndGlyphs">9 Oct 2019</text>
<rect x="708" y="720" width="1" height="3" fill="#000"/>
<text x="706.5" y="732" font-size="9.5" fill="#000" stroke="#000" stroke-width="0.15" textLength="51.7" lengthAdjust="spacingAndGlyphs">28 Oct 2019</text>
<rect x="772" y="720" width="1" height="3" fill="#000"/>
<text x="770.9" y="732" font-size="9.5" fill="#000" stroke="#000" stroke-width="0.15" textLength="54.2" lengthAdjust="spacingAndGlyphs">15 Nov 2019</text>
<rect x="836" y="720" width="1" height="3" fill="#000"/>
<text x="834.6" y="732" font-size="9.5" fill="#000" stroke="#000" stroke-width="0.15" textLength="47.3" lengthAdjust="spacingAndGlyphs">4 Dec 2019</text>
<rect x="900" y="720" width="1" height="3" fill="#000"/>
<text x="899.0" y="732" font-size="9.5" fill="#000" stroke="#000" stroke-width="0.15" textLength="51.6" lengthAdjust="spacingAndGlyphs">23 Dec 2019</text>
<rect x="964" y="720" width="1" height="3" fill="#000"/>
<text x="962.6" y="732" font-size="9.5" fill="#000" stroke="#000" stroke-width="0.15" textLength="50.2" lengthAdjust="spacingAndGlyphs">10 Jan 2020</text>
<rect x="1028" y="720" width="1" height="3" fill="#000"/>
<text x="1026.5" y="732" font-size="9.5" fill="#000" stroke="#000" stroke-width="0.15" textLength="50.7" lengthAdjust="spacingAndGlyphs">29 Jan 2020</text>
<rect x="1092" y="720" width="1" height="3" fill="#000"/>
<text x="1090.9" y="732" font-size="9.5" fill="#000" stroke="#000" stroke-width="0.15" textLength="52.2" lengthAdjust="spacingAndGlyphs">17 Feb 2020</text>
<rect x="1156" y="720" width="1" height="3" fill="#000"/>
<text x="1154.6" y="732" font-size="9.5" fill="#000" stroke="#000" stroke-width="0.15" textLength="47.3" lengthAdjust="spacingAndGlyphs">6 Mar 2020</text>
<rect x="1220" y="720" width="1" height="3" fill="#000"/>
<text x="1219.0" y="732" font-size="9.5" fill="#000" stroke="#000" stroke-width="0.15" textLength="51.6" lengthAdjust="spacingAndGlyphs">25 Mar 2020</text>
</svg>
</body></html>
